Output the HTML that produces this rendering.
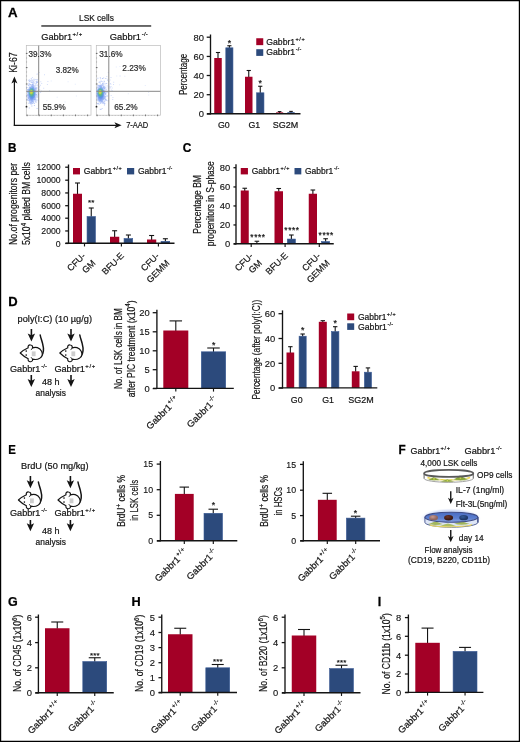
<!DOCTYPE html>
<html><head><meta charset="utf-8"><title>Figure</title>
<style>
html,body{margin:0;padding:0;background:#fff;}
body{width:520px;height:742px;overflow:hidden;position:relative;}
svg{display:block;position:absolute;left:0;top:0;will-change:transform;font-family:"Liberation Sans",sans-serif;}
svg.fig{filter:blur(0.35px);}
text{white-space:pre;}
</style></head><body>
<svg class="fig" width="520" height="742" viewBox="0 0 520 742">
<rect x="-5" y="-5" width="530" height="752" fill="#fff"/>
<defs>
<radialGradient id="gblue"><stop offset="0" stop-color="#3a70e8" stop-opacity="0.95"/><stop offset="0.45" stop-color="#4c80ec" stop-opacity="0.7"/><stop offset="1" stop-color="#7a9cf2" stop-opacity="0"/></radialGradient>
<radialGradient id="ggreen"><stop offset="0" stop-color="#86d048" stop-opacity="0.9"/><stop offset="0.55" stop-color="#5cc478" stop-opacity="0.7"/><stop offset="1" stop-color="#38a8d0" stop-opacity="0"/></radialGradient>
<radialGradient id="gyel"><stop offset="0" stop-color="#ecd838" stop-opacity="0.9"/><stop offset="0.6" stop-color="#d8d840" stop-opacity="0.7"/><stop offset="1" stop-color="#b8e040" stop-opacity="0"/></radialGradient>
<radialGradient id="gglow"><stop offset="0" stop-color="#9fb6ee" stop-opacity="0.9"/><stop offset="0.8" stop-color="#b8c8f2" stop-opacity="0.55"/><stop offset="1" stop-color="#dfe6fa" stop-opacity="0"/></radialGradient>
<linearGradient id="gmed" x1="0" y1="0" x2="0" y2="1"><stop offset="0" stop-color="#4a6cc2"/><stop offset="0.6" stop-color="#5c7fd0"/><stop offset="1" stop-color="#8aa4e0"/></linearGradient>
<radialGradient id="gc1" cx="0.4" cy="0.35"><stop offset="0" stop-color="#c99a90"/><stop offset="1" stop-color="#8e6660"/></radialGradient>
<radialGradient id="gc2" cx="0.4" cy="0.35"><stop offset="0" stop-color="#6e3428"/><stop offset="1" stop-color="#3c1a16"/></radialGradient>
<radialGradient id="gc3" cx="0.4" cy="0.35"><stop offset="0" stop-color="#345a98"/><stop offset="1" stop-color="#1f3868"/></radialGradient>
</defs>
<text transform="translate(7.90 16.75) scale(1.0720 1.0000)" x="0.00" y="0" font-size="12.40" font-weight="bold" fill="#000" stroke="#000" stroke-width="0.25">A</text>
<text transform="translate(79.00 20.70) scale(0.9407 1.0000)" x="0.00" y="0" font-size="8.90" fill="#141414" stroke="#141414" stroke-width="0.20">LSK cells</text>
<rect x="41.30" y="25.40" width="109.90" height="1.15" fill="#000"/>
<text transform="translate(41.30 40.40) scale(1.0272 1.0000)" x="0.00" y="0" font-size="9.00" fill="#141414" stroke="#141414" stroke-width="0.20">Gabbr1<tspan font-size="5.76" dy="-4.23" letter-spacing="0.60" dx="0.35">+/+</tspan></text>
<text transform="translate(109.80 40.40) scale(1.0424 1.0000)" x="0.00" y="0" font-size="9.00" fill="#141414" stroke="#141414" stroke-width="0.20">Gabbr1<tspan font-size="5.76" dy="-4.23" letter-spacing="0.10" dx="0.70">-/-</tspan></text>
<rect x="26.30" y="45.60" width="64.70" height="69.60" fill="#ffffff" stroke="#bcbcbc" stroke-width="0.70"/>
<path d="M31.8 101.0h1v1h-1zM29.0 99.5h1v1h-1zM30.8 91.9h1v1h-1zM36.6 94.4h1v1h-1zM31.4 97.9h1v1h-1zM34.5 93.3h1v1h-1zM33.1 87.7h1v1h-1zM30.5 90.9h1v1h-1zM27.9 84.4h1v1h-1zM27.1 92.1h1v1h-1zM31.0 91.6h1v1h-1zM31.7 85.5h1v1h-1zM31.3 94.9h1v1h-1zM33.5 88.4h1v1h-1zM30.4 81.4h1v1h-1zM30.1 80.3h1v1h-1zM27.7 100.1h1v1h-1zM32.4 91.6h1v1h-1zM32.7 96.7h1v1h-1zM34.3 92.1h1v1h-1zM29.9 89.9h1v1h-1zM28.8 93.2h1v1h-1zM29.4 99.9h1v1h-1zM26.5 86.9h1v1h-1zM28.9 80.9h1v1h-1zM36.6 79.0h1v1h-1zM30.7 90.3h1v1h-1zM36.0 81.6h1v1h-1zM34.4 89.1h1v1h-1zM31.1 89.5h1v1h-1zM33.2 86.7h1v1h-1zM31.3 95.6h1v1h-1zM36.5 79.1h1v1h-1zM35.6 99.2h1v1h-1zM30.2 95.3h1v1h-1zM30.2 103.4h1v1h-1zM32.1 92.2h1v1h-1zM30.9 92.3h1v1h-1zM31.0 88.2h1v1h-1zM37.1 82.0h1v1h-1zM31.1 95.7h1v1h-1zM30.9 92.6h1v1h-1zM32.4 99.3h1v1h-1zM30.3 91.3h1v1h-1zM36.7 96.7h1v1h-1zM28.8 107.4h1v1h-1zM33.6 90.0h1v1h-1zM28.3 95.3h1v1h-1zM29.3 87.2h1v1h-1zM28.0 90.5h1v1h-1zM34.5 90.9h1v1h-1zM27.6 97.5h1v1h-1zM31.7 98.6h1v1h-1zM34.7 92.5h1v1h-1zM31.1 93.2h1v1h-1zM28.4 97.5h1v1h-1zM35.2 94.5h1v1h-1zM30.9 91.9h1v1h-1zM29.4 88.7h1v1h-1zM30.4 88.4h1v1h-1zM30.3 84.0h1v1h-1zM32.4 93.8h1v1h-1zM28.4 79.7h1v1h-1zM31.5 100.1h1v1h-1zM29.5 90.6h1v1h-1zM30.0 97.4h1v1h-1zM29.0 99.4h1v1h-1zM30.7 99.0h1v1h-1zM31.6 92.1h1v1h-1zM27.5 89.4h1v1h-1zM30.8 97.5h1v1h-1zM32.2 89.3h1v1h-1zM32.6 99.4h1v1h-1zM31.1 90.9h1v1h-1zM30.4 98.4h1v1h-1zM33.0 87.9h1v1h-1zM32.5 90.6h1v1h-1zM29.5 100.9h1v1h-1zM33.7 89.2h1v1h-1zM31.7 96.5h1v1h-1zM29.8 92.8h1v1h-1zM33.3 82.8h1v1h-1zM32.4 97.9h1v1h-1zM32.9 85.5h1v1h-1zM32.4 88.3h1v1h-1zM33.0 97.1h1v1h-1zM32.1 88.9h1v1h-1zM29.9 98.6h1v1h-1zM29.1 96.5h1v1h-1zM32.9 91.8h1v1h-1zM38.0 93.9h1v1h-1zM37.3 81.4h1v1h-1zM33.2 91.6h1v1h-1zM31.4 82.1h1v1h-1zM29.8 87.3h1v1h-1zM30.9 98.8h1v1h-1zM31.6 95.7h1v1h-1zM29.6 90.9h1v1h-1zM31.8 91.8h1v1h-1zM34.9 88.2h1v1h-1zM36.6 87.6h1v1h-1zM34.4 88.9h1v1h-1zM36.0 94.3h1v1h-1zM32.6 98.0h1v1h-1zM29.8 87.2h1v1h-1zM29.6 89.9h1v1h-1zM31.4 105.4h1v1h-1zM26.8 95.0h1v1h-1zM30.4 96.7h1v1h-1zM26.6 91.1h1v1h-1zM33.8 102.9h1v1h-1zM35.8 88.4h1v1h-1zM31.6 92.8h1v1h-1zM27.8 84.9h1v1h-1zM33.5 95.0h1v1h-1zM31.1 100.8h1v1h-1zM28.8 96.7h1v1h-1zM31.5 93.1h1v1h-1zM32.8 94.6h1v1h-1zM32.2 95.1h1v1h-1zM36.7 91.6h1v1h-1zM34.2 97.2h1v1h-1zM30.6 98.3h1v1h-1zM29.2 100.5h1v1h-1zM29.3 90.6h1v1h-1zM32.4 98.5h1v1h-1zM34.0 98.9h1v1h-1zM30.9 87.8h1v1h-1zM33.0 95.3h1v1h-1zM28.9 99.3h1v1h-1zM32.0 87.8h1v1h-1zM32.7 85.5h1v1h-1zM29.1 95.9h1v1h-1zM27.3 93.7h1v1h-1zM27.9 97.9h1v1h-1zM29.5 94.6h1v1h-1zM27.4 91.4h1v1h-1zM34.1 96.2h1v1h-1zM26.5 99.0h1v1h-1zM33.9 91.2h1v1h-1zM35.3 87.1h1v1h-1zM31.3 100.2h1v1h-1zM35.0 101.2h1v1h-1zM28.5 82.8h1v1h-1zM32.6 84.9h1v1h-1zM31.1 85.8h1v1h-1zM34.4 98.3h1v1h-1zM33.0 93.6h1v1h-1zM31.6 91.7h1v1h-1zM32.5 95.0h1v1h-1zM32.7 90.9h1v1h-1zM36.6 95.2h1v1h-1zM35.3 101.5h1v1h-1zM29.1 83.4h1v1h-1zM34.9 91.2h1v1h-1zM31.7 91.9h1v1h-1zM31.9 86.4h1v1h-1zM31.2 90.7h1v1h-1zM31.5 79.5h1v1h-1zM33.7 95.5h1v1h-1zM26.8 89.1h1v1h-1zM31.6 97.3h1v1h-1zM31.5 101.8h1v1h-1zM31.6 87.5h1v1h-1zM29.7 98.0h1v1h-1zM29.8 98.5h1v1h-1zM34.3 97.0h1v1h-1zM34.2 92.5h1v1h-1zM31.5 89.9h1v1h-1zM29.9 84.1h1v1h-1zM30.0 87.1h1v1h-1zM27.6 94.4h1v1h-1zM32.7 91.4h1v1h-1zM35.2 99.1h1v1h-1zM34.3 89.9h1v1h-1zM27.5 96.8h1v1h-1zM32.3 97.9h1v1h-1zM32.6 101.1h1v1h-1zM30.7 97.5h1v1h-1zM29.1 79.6h1v1h-1zM30.3 102.5h1v1h-1zM27.0 99.6h1v1h-1zM29.7 91.1h1v1h-1zM31.6 94.8h1v1h-1zM28.9 94.3h1v1h-1zM32.7 98.5h1v1h-1zM29.5 102.8h1v1h-1zM36.6 108.0h1v1h-1zM27.9 94.5h1v1h-1zM26.5 95.8h1v1h-1zM33.0 86.6h1v1h-1zM27.2 94.6h1v1h-1zM33.2 88.7h1v1h-1zM30.8 78.3h1v1h-1zM29.6 94.4h1v1h-1zM31.9 103.0h1v1h-1zM28.4 80.0h1v1h-1zM32.7 90.0h1v1h-1zM32.3 97.8h1v1h-1zM33.1 102.2h1v1h-1zM35.2 83.5h1v1h-1zM31.3 105.5h1v1h-1zM30.4 99.3h1v1h-1zM31.3 91.0h1v1h-1zM35.8 99.8h1v1h-1zM30.8 98.9h1v1h-1zM28.0 89.1h1v1h-1zM33.9 93.7h1v1h-1zM28.6 96.2h1v1h-1zM32.4 101.2h1v1h-1zM34.1 91.8h1v1h-1zM30.2 92.7h1v1h-1zM30.9 102.3h1v1h-1zM35.8 101.6h1v1h-1zM32.5 92.0h1v1h-1zM33.9 91.4h1v1h-1zM32.1 83.5h1v1h-1zM30.4 102.1h1v1h-1zM28.7 84.5h1v1h-1zM31.1 103.5h1v1h-1zM35.4 91.3h1v1h-1zM30.2 92.8h1v1h-1zM29.0 93.7h1v1h-1zM30.7 84.6h1v1h-1zM29.9 92.0h1v1h-1zM29.2 86.8h1v1h-1zM33.9 104.9h1v1h-1zM30.7 91.0h1v1h-1zM32.9 92.1h1v1h-1zM29.4 101.9h1v1h-1zM28.7 89.1h1v1h-1zM29.7 88.2h1v1h-1zM30.9 97.0h1v1h-1zM35.4 97.5h1v1h-1zM31.6 86.0h1v1h-1zM31.3 87.9h1v1h-1zM31.2 99.4h1v1h-1zM32.1 92.2h1v1h-1zM29.5 93.4h1v1h-1zM31.8 87.9h1v1h-1zM30.1 98.8h1v1h-1zM27.0 90.8h1v1h-1zM28.3 102.8h1v1h-1zM33.1 96.6h1v1h-1zM32.6 95.2h1v1h-1zM32.3 84.0h1v1h-1zM32.2 97.1h1v1h-1zM27.6 98.4h1v1h-1zM33.3 84.4h1v1h-1zM30.2 91.7h1v1h-1zM30.1 95.8h1v1h-1zM28.1 92.2h1v1h-1zM32.1 97.8h1v1h-1zM31.6 92.0h1v1h-1zM33.4 81.6h1v1h-1zM34.0 91.7h1v1h-1z" fill="#5a80ea" opacity="0.42"/>
<path d="M40.0 84.7h1v1h-1zM44.0 74.2h1v1h-1zM33.5 82.4h1v1h-1zM36.3 81.7h1v1h-1zM40.3 81.3h1v1h-1zM43.2 87.7h1v1h-1zM35.5 81.1h1v1h-1zM38.9 86.4h1v1h-1zM34.2 95.0h1v1h-1zM39.2 89.3h1v1h-1zM35.8 81.9h1v1h-1zM47.4 80.9h1v1h-1zM34.1 85.3h1v1h-1zM33.8 78.7h1v1h-1zM37.5 89.4h1v1h-1zM31.5 90.1h1v1h-1zM46.9 83.9h1v1h-1zM37.5 99.3h1v1h-1zM32.5 84.2h1v1h-1zM37.2 80.6h1v1h-1zM41.2 82.9h1v1h-1zM31.6 81.5h1v1h-1zM36.9 73.4h1v1h-1zM36.0 82.2h1v1h-1zM31.5 80.0h1v1h-1zM32.8 88.7h1v1h-1zM35.3 89.5h1v1h-1zM35.6 94.0h1v1h-1zM33.9 79.8h1v1h-1zM40.1 91.9h1v1h-1zM33.8 94.3h1v1h-1zM31.5 80.9h1v1h-1zM37.5 100.1h1v1h-1zM32.5 81.4h1v1h-1zM37.1 93.3h1v1h-1zM35.3 84.9h1v1h-1zM36.0 87.6h1v1h-1zM32.0 84.0h1v1h-1zM35.7 88.6h1v1h-1zM32.3 91.3h1v1h-1zM34.7 89.7h1v1h-1zM34.5 88.0h1v1h-1zM35.2 94.1h1v1h-1zM32.6 88.0h1v1h-1zM38.0 89.6h1v1h-1zM31.9 85.5h1v1h-1zM37.0 91.2h1v1h-1zM49.1 90.3h1v1h-1zM31.8 90.3h1v1h-1zM35.3 88.1h1v1h-1zM35.8 83.3h1v1h-1zM32.8 89.0h1v1h-1zM32.0 82.3h1v1h-1zM33.0 80.4h1v1h-1zM36.6 85.3h1v1h-1zM31.2 92.6h1v1h-1zM35.1 79.1h1v1h-1zM32.9 89.9h1v1h-1zM38.8 71.9h1v1h-1zM31.7 87.2h1v1h-1zM34.2 88.0h1v1h-1zM32.1 89.1h1v1h-1zM40.8 90.6h1v1h-1zM35.0 84.9h1v1h-1zM39.1 86.3h1v1h-1zM36.4 73.8h1v1h-1zM32.9 86.9h1v1h-1zM34.4 95.9h1v1h-1zM34.0 86.6h1v1h-1zM34.9 99.7h1v1h-1zM36.4 91.8h1v1h-1zM36.5 96.0h1v1h-1zM35.1 85.8h1v1h-1zM31.9 76.9h1v1h-1zM35.8 80.4h1v1h-1zM37.1 84.6h1v1h-1zM35.5 89.9h1v1h-1zM32.7 80.2h1v1h-1zM31.7 91.4h1v1h-1zM33.0 78.8h1v1h-1z" fill="#5a80ea" opacity="0.26"/>
<path d="M67.6 81.2h1v1h-1zM57.6 71.5h1v1h-1zM67.6 66.1h1v1h-1zM56.7 96.7h1v1h-1zM66.1 69.1h1v1h-1zM46.4 100.2h1v1h-1zM64.5 101.6h1v1h-1zM74.8 83.8h1v1h-1zM75.9 95.6h1v1h-1zM50.7 80.5h1v1h-1z" fill="#5a80ea" opacity="0.16"/>
<ellipse cx="31.90" cy="94.00" rx="5.4" ry="10.5" fill="url(#gblue)"/>
<ellipse cx="31.60" cy="92.60" rx="3.5" ry="5.6" fill="url(#ggreen)"/>
<ellipse cx="31.30" cy="92.10" rx="2.0" ry="2.8" fill="url(#gyel)"/>
<line x1="38.70" y1="45.60" x2="38.70" y2="115.20" stroke="#868686" stroke-width="1.00" stroke-linecap="butt"/>
<line x1="26.30" y1="91.30" x2="91.00" y2="91.30" stroke="#868686" stroke-width="1.00" stroke-linecap="butt"/>
<line x1="25.90" y1="53.40" x2="27.50" y2="53.40" stroke="#555" stroke-width="0.90" stroke-linecap="butt"/>
<line x1="25.90" y1="67.60" x2="27.50" y2="67.60" stroke="#555" stroke-width="0.90" stroke-linecap="butt"/>
<line x1="25.90" y1="84.00" x2="27.50" y2="84.00" stroke="#555" stroke-width="0.90" stroke-linecap="butt"/>
<line x1="26.10" y1="58.00" x2="27.10" y2="58.00" stroke="#888" stroke-width="0.60" stroke-linecap="butt"/>
<line x1="26.10" y1="62.00" x2="27.10" y2="62.00" stroke="#888" stroke-width="0.60" stroke-linecap="butt"/>
<line x1="26.10" y1="72.00" x2="27.10" y2="72.00" stroke="#888" stroke-width="0.60" stroke-linecap="butt"/>
<line x1="26.10" y1="76.00" x2="27.10" y2="76.00" stroke="#888" stroke-width="0.60" stroke-linecap="butt"/>
<line x1="26.10" y1="80.00" x2="27.10" y2="80.00" stroke="#888" stroke-width="0.60" stroke-linecap="butt"/>
<line x1="26.10" y1="88.00" x2="27.10" y2="88.00" stroke="#888" stroke-width="0.60" stroke-linecap="butt"/>
<line x1="26.10" y1="96.00" x2="27.10" y2="96.00" stroke="#888" stroke-width="0.60" stroke-linecap="butt"/>
<line x1="26.10" y1="100.00" x2="27.10" y2="100.00" stroke="#888" stroke-width="0.60" stroke-linecap="butt"/>
<line x1="26.10" y1="103.00" x2="27.10" y2="103.00" stroke="#888" stroke-width="0.60" stroke-linecap="butt"/>
<circle cx="26.50" cy="106.7" r="0.9" fill="#222"/>
<line x1="27.10" y1="114.60" x2="27.10" y2="116.20" stroke="#555" stroke-width="0.90" stroke-linecap="butt"/>
<line x1="39.20" y1="114.60" x2="39.20" y2="116.20" stroke="#555" stroke-width="0.90" stroke-linecap="butt"/>
<line x1="51.30" y1="114.60" x2="51.30" y2="116.20" stroke="#555" stroke-width="0.90" stroke-linecap="butt"/>
<line x1="63.40" y1="114.60" x2="63.40" y2="116.20" stroke="#555" stroke-width="0.90" stroke-linecap="butt"/>
<line x1="75.50" y1="114.60" x2="75.50" y2="116.20" stroke="#555" stroke-width="0.90" stroke-linecap="butt"/>
<line x1="87.60" y1="114.60" x2="87.60" y2="116.20" stroke="#555" stroke-width="0.90" stroke-linecap="butt"/>
<line x1="27.10" y1="115.00" x2="27.10" y2="115.90" stroke="#999" stroke-width="0.50" stroke-linecap="butt"/>
<line x1="30.12" y1="115.00" x2="30.12" y2="115.90" stroke="#999" stroke-width="0.50" stroke-linecap="butt"/>
<line x1="33.14" y1="115.00" x2="33.14" y2="115.90" stroke="#999" stroke-width="0.50" stroke-linecap="butt"/>
<line x1="36.16" y1="115.00" x2="36.16" y2="115.90" stroke="#999" stroke-width="0.50" stroke-linecap="butt"/>
<line x1="39.18" y1="115.00" x2="39.18" y2="115.90" stroke="#999" stroke-width="0.50" stroke-linecap="butt"/>
<line x1="42.20" y1="115.00" x2="42.20" y2="115.90" stroke="#999" stroke-width="0.50" stroke-linecap="butt"/>
<line x1="45.22" y1="115.00" x2="45.22" y2="115.90" stroke="#999" stroke-width="0.50" stroke-linecap="butt"/>
<line x1="48.24" y1="115.00" x2="48.24" y2="115.90" stroke="#999" stroke-width="0.50" stroke-linecap="butt"/>
<line x1="51.26" y1="115.00" x2="51.26" y2="115.90" stroke="#999" stroke-width="0.50" stroke-linecap="butt"/>
<line x1="54.28" y1="115.00" x2="54.28" y2="115.90" stroke="#999" stroke-width="0.50" stroke-linecap="butt"/>
<line x1="57.30" y1="115.00" x2="57.30" y2="115.90" stroke="#999" stroke-width="0.50" stroke-linecap="butt"/>
<line x1="60.32" y1="115.00" x2="60.32" y2="115.90" stroke="#999" stroke-width="0.50" stroke-linecap="butt"/>
<line x1="63.34" y1="115.00" x2="63.34" y2="115.90" stroke="#999" stroke-width="0.50" stroke-linecap="butt"/>
<line x1="66.36" y1="115.00" x2="66.36" y2="115.90" stroke="#999" stroke-width="0.50" stroke-linecap="butt"/>
<line x1="69.38" y1="115.00" x2="69.38" y2="115.90" stroke="#999" stroke-width="0.50" stroke-linecap="butt"/>
<line x1="72.40" y1="115.00" x2="72.40" y2="115.90" stroke="#999" stroke-width="0.50" stroke-linecap="butt"/>
<line x1="75.42" y1="115.00" x2="75.42" y2="115.90" stroke="#999" stroke-width="0.50" stroke-linecap="butt"/>
<line x1="78.44" y1="115.00" x2="78.44" y2="115.90" stroke="#999" stroke-width="0.50" stroke-linecap="butt"/>
<line x1="81.46" y1="115.00" x2="81.46" y2="115.90" stroke="#999" stroke-width="0.50" stroke-linecap="butt"/>
<line x1="84.48" y1="115.00" x2="84.48" y2="115.90" stroke="#999" stroke-width="0.50" stroke-linecap="butt"/>
<line x1="87.50" y1="115.00" x2="87.50" y2="115.90" stroke="#999" stroke-width="0.50" stroke-linecap="butt"/>
<text transform="translate(28.50 56.70) scale(0.9432 1.0000)" x="0.00" y="0" font-size="8.60" fill="#2a2a2a" stroke="#2a2a2a" stroke-width="0.20">39.3%</text>
<text transform="translate(55.80 72.70) scale(0.9432 1.0000)" x="0.00" y="0" font-size="8.60" fill="#2a2a2a" stroke="#2a2a2a" stroke-width="0.20">3.82%</text>
<text transform="translate(42.70 109.60) scale(0.9473 1.0000)" x="0.00" y="0" font-size="8.60" fill="#2a2a2a" stroke="#2a2a2a" stroke-width="0.20">55.9%</text>
<rect x="96.30" y="45.60" width="64.10" height="69.60" fill="#ffffff" stroke="#bcbcbc" stroke-width="0.70"/>
<path d="M99.6 96.6h1v1h-1zM99.7 91.6h1v1h-1zM97.8 92.2h1v1h-1zM103.3 96.0h1v1h-1zM103.1 95.0h1v1h-1zM101.4 94.6h1v1h-1zM101.7 96.5h1v1h-1zM97.9 90.7h1v1h-1zM101.1 93.2h1v1h-1zM101.7 89.6h1v1h-1zM101.1 95.9h1v1h-1zM98.5 103.8h1v1h-1zM101.8 100.7h1v1h-1zM98.6 89.1h1v1h-1zM99.4 92.9h1v1h-1zM102.0 95.0h1v1h-1zM99.1 87.8h1v1h-1zM98.9 100.8h1v1h-1zM98.1 95.0h1v1h-1zM101.5 84.6h1v1h-1zM100.4 101.3h1v1h-1zM100.0 88.6h1v1h-1zM101.6 93.1h1v1h-1zM102.1 99.2h1v1h-1zM104.2 95.7h1v1h-1zM100.6 85.7h1v1h-1zM102.0 89.8h1v1h-1zM99.1 85.9h1v1h-1zM97.7 90.3h1v1h-1zM103.8 81.3h1v1h-1zM104.2 97.0h1v1h-1zM101.3 89.1h1v1h-1zM97.3 99.4h1v1h-1zM103.3 94.4h1v1h-1zM101.0 96.1h1v1h-1zM104.6 97.2h1v1h-1zM101.7 96.8h1v1h-1zM102.9 96.7h1v1h-1zM102.6 82.6h1v1h-1zM99.8 99.6h1v1h-1zM96.8 103.2h1v1h-1zM101.8 92.6h1v1h-1zM101.2 97.4h1v1h-1zM100.6 100.4h1v1h-1zM98.5 91.0h1v1h-1zM103.1 93.7h1v1h-1zM97.9 99.2h1v1h-1zM104.3 90.8h1v1h-1zM96.6 92.7h1v1h-1zM99.9 91.7h1v1h-1zM104.1 87.3h1v1h-1zM103.7 85.9h1v1h-1zM98.2 97.3h1v1h-1zM103.3 98.7h1v1h-1zM101.2 94.4h1v1h-1zM100.7 97.0h1v1h-1zM99.8 95.2h1v1h-1zM101.8 93.5h1v1h-1zM102.4 96.9h1v1h-1zM105.7 95.4h1v1h-1zM99.1 91.3h1v1h-1zM100.3 99.0h1v1h-1zM99.4 95.8h1v1h-1zM105.3 78.1h1v1h-1zM97.3 95.0h1v1h-1zM101.4 94.9h1v1h-1zM99.1 97.4h1v1h-1zM101.1 90.4h1v1h-1zM106.9 95.6h1v1h-1zM98.8 92.9h1v1h-1zM99.7 93.1h1v1h-1zM103.0 86.5h1v1h-1zM100.1 99.2h1v1h-1zM102.6 102.4h1v1h-1zM99.4 97.2h1v1h-1zM103.2 77.4h1v1h-1zM103.2 84.8h1v1h-1zM102.1 84.5h1v1h-1zM100.8 100.7h1v1h-1zM99.9 94.6h1v1h-1zM102.5 94.3h1v1h-1zM100.1 102.7h1v1h-1zM103.1 91.7h1v1h-1zM107.7 86.6h1v1h-1zM102.8 91.9h1v1h-1zM100.7 97.7h1v1h-1zM100.9 97.3h1v1h-1zM102.0 87.7h1v1h-1zM97.5 84.7h1v1h-1zM103.7 98.0h1v1h-1zM104.3 87.9h1v1h-1zM100.3 86.7h1v1h-1zM102.4 103.0h1v1h-1zM97.9 102.9h1v1h-1zM103.0 92.4h1v1h-1zM100.0 89.9h1v1h-1zM101.4 96.0h1v1h-1zM104.3 87.4h1v1h-1zM103.4 102.4h1v1h-1zM104.2 92.4h1v1h-1zM98.3 99.6h1v1h-1zM100.6 94.2h1v1h-1zM104.1 91.9h1v1h-1zM101.2 89.8h1v1h-1zM100.3 98.5h1v1h-1zM100.5 101.5h1v1h-1zM100.1 99.7h1v1h-1zM104.3 103.2h1v1h-1zM98.5 98.8h1v1h-1zM97.0 93.4h1v1h-1zM99.8 93.3h1v1h-1zM98.7 94.9h1v1h-1zM105.1 93.8h1v1h-1zM101.7 99.5h1v1h-1zM99.8 85.9h1v1h-1zM98.8 99.9h1v1h-1zM103.0 98.3h1v1h-1zM100.3 98.3h1v1h-1zM100.7 86.4h1v1h-1zM102.8 90.1h1v1h-1zM97.9 88.9h1v1h-1zM97.1 95.7h1v1h-1zM98.6 81.8h1v1h-1zM102.3 91.8h1v1h-1zM101.1 90.7h1v1h-1zM102.4 98.0h1v1h-1zM102.1 95.5h1v1h-1zM103.9 97.5h1v1h-1zM101.5 81.0h1v1h-1zM102.7 101.4h1v1h-1zM99.5 90.7h1v1h-1zM105.5 83.0h1v1h-1zM101.6 108.0h1v1h-1zM97.8 97.6h1v1h-1zM105.4 92.8h1v1h-1zM101.8 98.9h1v1h-1zM97.9 93.0h1v1h-1zM101.1 98.5h1v1h-1zM100.2 92.3h1v1h-1zM97.6 91.3h1v1h-1zM102.7 94.1h1v1h-1zM98.0 88.5h1v1h-1zM107.5 100.3h1v1h-1zM102.0 77.9h1v1h-1zM102.0 96.4h1v1h-1zM104.8 96.1h1v1h-1zM100.1 96.6h1v1h-1zM101.2 89.3h1v1h-1zM103.9 104.4h1v1h-1zM96.5 89.5h1v1h-1zM101.1 94.6h1v1h-1zM99.2 87.7h1v1h-1zM106.0 99.7h1v1h-1zM97.1 85.4h1v1h-1zM104.9 99.4h1v1h-1zM105.2 98.4h1v1h-1zM97.9 95.1h1v1h-1zM100.1 96.6h1v1h-1zM98.3 92.8h1v1h-1zM101.5 95.8h1v1h-1zM102.0 94.8h1v1h-1zM99.4 98.2h1v1h-1zM100.4 88.5h1v1h-1zM98.6 93.5h1v1h-1zM100.0 94.4h1v1h-1zM100.3 94.6h1v1h-1zM99.9 85.9h1v1h-1zM101.4 99.8h1v1h-1zM101.5 92.4h1v1h-1zM101.5 87.7h1v1h-1zM97.8 97.9h1v1h-1zM97.4 77.7h1v1h-1zM97.5 103.0h1v1h-1zM99.3 85.3h1v1h-1zM98.2 96.6h1v1h-1zM101.6 94.6h1v1h-1zM104.3 97.7h1v1h-1zM100.2 97.1h1v1h-1zM104.8 99.3h1v1h-1zM103.1 87.0h1v1h-1zM99.9 97.9h1v1h-1zM99.5 99.9h1v1h-1zM101.9 98.9h1v1h-1zM99.7 108.8h1v1h-1zM103.6 92.2h1v1h-1zM100.5 109.1h1v1h-1zM99.4 98.7h1v1h-1zM102.9 93.5h1v1h-1zM97.1 94.6h1v1h-1zM101.3 100.3h1v1h-1zM102.4 93.6h1v1h-1zM102.6 96.7h1v1h-1zM100.9 93.8h1v1h-1zM99.6 97.6h1v1h-1zM97.5 89.7h1v1h-1zM100.3 84.7h1v1h-1zM99.1 81.4h1v1h-1zM98.5 96.9h1v1h-1zM101.8 93.2h1v1h-1zM99.7 85.0h1v1h-1zM105.2 96.6h1v1h-1zM103.3 88.2h1v1h-1zM99.8 82.6h1v1h-1zM102.4 99.1h1v1h-1zM102.0 82.9h1v1h-1zM98.6 85.1h1v1h-1zM100.4 95.0h1v1h-1zM102.0 97.7h1v1h-1zM104.4 100.5h1v1h-1zM96.8 90.5h1v1h-1zM97.4 87.0h1v1h-1zM100.1 93.5h1v1h-1zM101.6 84.0h1v1h-1zM97.0 93.4h1v1h-1zM99.8 91.6h1v1h-1zM100.1 88.9h1v1h-1zM102.2 95.6h1v1h-1zM100.1 89.5h1v1h-1zM99.8 77.2h1v1h-1zM97.7 93.7h1v1h-1zM100.7 85.2h1v1h-1zM99.6 91.6h1v1h-1zM101.5 97.2h1v1h-1zM100.2 88.4h1v1h-1zM99.9 93.1h1v1h-1zM102.3 95.3h1v1h-1zM98.3 85.4h1v1h-1zM99.3 89.1h1v1h-1zM97.3 92.8h1v1h-1zM99.0 94.1h1v1h-1zM101.7 91.0h1v1h-1zM106.6 91.6h1v1h-1zM103.3 94.2h1v1h-1z" fill="#5a80ea" opacity="0.42"/>
<path d="M107.8 72.1h1v1h-1zM105.3 89.1h1v1h-1zM104.2 102.7h1v1h-1zM102.3 95.8h1v1h-1zM105.4 93.7h1v1h-1zM103.6 86.5h1v1h-1zM103.6 80.5h1v1h-1zM108.3 80.9h1v1h-1zM101.7 101.3h1v1h-1zM101.6 87.6h1v1h-1zM108.1 87.7h1v1h-1zM105.7 89.2h1v1h-1zM104.1 92.1h1v1h-1zM105.4 98.9h1v1h-1zM111.7 87.6h1v1h-1zM101.9 84.7h1v1h-1zM109.9 82.9h1v1h-1zM104.7 84.4h1v1h-1zM104.9 92.2h1v1h-1zM109.3 87.4h1v1h-1zM104.7 92.8h1v1h-1zM100.3 89.5h1v1h-1zM110.7 94.9h1v1h-1zM103.6 102.3h1v1h-1zM100.0 92.6h1v1h-1zM104.5 87.2h1v1h-1zM112.2 99.1h1v1h-1zM109.6 79.6h1v1h-1zM110.5 77.0h1v1h-1zM108.2 84.5h1v1h-1zM100.4 85.5h1v1h-1zM100.8 80.4h1v1h-1zM100.2 78.2h1v1h-1zM100.5 89.5h1v1h-1zM103.3 86.0h1v1h-1zM106.3 88.5h1v1h-1zM103.4 97.7h1v1h-1zM105.4 86.8h1v1h-1zM103.3 82.9h1v1h-1zM106.6 85.2h1v1h-1zM102.1 90.9h1v1h-1zM104.0 101.1h1v1h-1zM104.9 87.6h1v1h-1zM119.6 75.4h1v1h-1zM103.7 88.6h1v1h-1zM101.1 90.2h1v1h-1zM101.7 89.9h1v1h-1zM100.4 92.5h1v1h-1zM113.2 81.7h1v1h-1zM100.0 80.8h1v1h-1zM107.3 91.6h1v1h-1zM104.5 91.6h1v1h-1zM105.2 89.5h1v1h-1zM103.6 86.8h1v1h-1zM109.9 87.3h1v1h-1zM103.2 84.1h1v1h-1zM100.7 92.4h1v1h-1zM106.1 91.7h1v1h-1zM113.0 83.9h1v1h-1zM101.0 86.5h1v1h-1zM110.8 89.6h1v1h-1zM106.3 83.0h1v1h-1zM100.1 87.4h1v1h-1zM112.4 96.9h1v1h-1zM106.3 76.1h1v1h-1zM105.2 86.6h1v1h-1zM103.1 89.9h1v1h-1zM110.5 86.1h1v1h-1zM110.4 83.8h1v1h-1zM107.2 78.7h1v1h-1zM108.5 89.7h1v1h-1zM111.8 90.3h1v1h-1zM101.7 102.0h1v1h-1zM103.6 83.1h1v1h-1zM103.7 91.1h1v1h-1zM107.1 79.9h1v1h-1zM102.0 89.1h1v1h-1zM109.1 86.2h1v1h-1zM103.8 90.5h1v1h-1zM100.8 86.9h1v1h-1z" fill="#5a80ea" opacity="0.26"/>
<path d="M119.1 84.3h1v1h-1zM148.1 91.9h1v1h-1zM144.8 84.9h1v1h-1zM116.2 75.4h1v1h-1zM148.2 94.4h1v1h-1zM119.4 66.0h1v1h-1zM127.8 93.2h1v1h-1zM124.3 75.8h1v1h-1zM135.2 103.6h1v1h-1zM115.8 66.5h1v1h-1z" fill="#5a80ea" opacity="0.16"/>
<ellipse cx="100.70" cy="94.00" rx="5.4" ry="10.5" fill="url(#gblue)"/>
<ellipse cx="100.40" cy="92.60" rx="3.5" ry="5.6" fill="url(#ggreen)"/>
<ellipse cx="100.10" cy="92.10" rx="2.0" ry="2.8" fill="url(#gyel)"/>
<line x1="108.80" y1="45.60" x2="108.80" y2="115.20" stroke="#868686" stroke-width="1.00" stroke-linecap="butt"/>
<line x1="96.30" y1="91.30" x2="160.40" y2="91.30" stroke="#868686" stroke-width="1.00" stroke-linecap="butt"/>
<line x1="95.90" y1="53.40" x2="97.50" y2="53.40" stroke="#555" stroke-width="0.90" stroke-linecap="butt"/>
<line x1="95.90" y1="67.60" x2="97.50" y2="67.60" stroke="#555" stroke-width="0.90" stroke-linecap="butt"/>
<line x1="95.90" y1="84.00" x2="97.50" y2="84.00" stroke="#555" stroke-width="0.90" stroke-linecap="butt"/>
<line x1="96.10" y1="58.00" x2="97.10" y2="58.00" stroke="#888" stroke-width="0.60" stroke-linecap="butt"/>
<line x1="96.10" y1="62.00" x2="97.10" y2="62.00" stroke="#888" stroke-width="0.60" stroke-linecap="butt"/>
<line x1="96.10" y1="72.00" x2="97.10" y2="72.00" stroke="#888" stroke-width="0.60" stroke-linecap="butt"/>
<line x1="96.10" y1="76.00" x2="97.10" y2="76.00" stroke="#888" stroke-width="0.60" stroke-linecap="butt"/>
<line x1="96.10" y1="80.00" x2="97.10" y2="80.00" stroke="#888" stroke-width="0.60" stroke-linecap="butt"/>
<line x1="96.10" y1="88.00" x2="97.10" y2="88.00" stroke="#888" stroke-width="0.60" stroke-linecap="butt"/>
<line x1="96.10" y1="96.00" x2="97.10" y2="96.00" stroke="#888" stroke-width="0.60" stroke-linecap="butt"/>
<line x1="96.10" y1="100.00" x2="97.10" y2="100.00" stroke="#888" stroke-width="0.60" stroke-linecap="butt"/>
<line x1="96.10" y1="103.00" x2="97.10" y2="103.00" stroke="#888" stroke-width="0.60" stroke-linecap="butt"/>
<circle cx="96.50" cy="106.7" r="0.9" fill="#222"/>
<line x1="97.10" y1="114.60" x2="97.10" y2="116.20" stroke="#555" stroke-width="0.90" stroke-linecap="butt"/>
<line x1="109.20" y1="114.60" x2="109.20" y2="116.20" stroke="#555" stroke-width="0.90" stroke-linecap="butt"/>
<line x1="121.30" y1="114.60" x2="121.30" y2="116.20" stroke="#555" stroke-width="0.90" stroke-linecap="butt"/>
<line x1="133.40" y1="114.60" x2="133.40" y2="116.20" stroke="#555" stroke-width="0.90" stroke-linecap="butt"/>
<line x1="145.50" y1="114.60" x2="145.50" y2="116.20" stroke="#555" stroke-width="0.90" stroke-linecap="butt"/>
<line x1="157.60" y1="114.60" x2="157.60" y2="116.20" stroke="#555" stroke-width="0.90" stroke-linecap="butt"/>
<line x1="97.10" y1="115.00" x2="97.10" y2="115.90" stroke="#999" stroke-width="0.50" stroke-linecap="butt"/>
<line x1="100.12" y1="115.00" x2="100.12" y2="115.90" stroke="#999" stroke-width="0.50" stroke-linecap="butt"/>
<line x1="103.14" y1="115.00" x2="103.14" y2="115.90" stroke="#999" stroke-width="0.50" stroke-linecap="butt"/>
<line x1="106.16" y1="115.00" x2="106.16" y2="115.90" stroke="#999" stroke-width="0.50" stroke-linecap="butt"/>
<line x1="109.18" y1="115.00" x2="109.18" y2="115.90" stroke="#999" stroke-width="0.50" stroke-linecap="butt"/>
<line x1="112.20" y1="115.00" x2="112.20" y2="115.90" stroke="#999" stroke-width="0.50" stroke-linecap="butt"/>
<line x1="115.22" y1="115.00" x2="115.22" y2="115.90" stroke="#999" stroke-width="0.50" stroke-linecap="butt"/>
<line x1="118.24" y1="115.00" x2="118.24" y2="115.90" stroke="#999" stroke-width="0.50" stroke-linecap="butt"/>
<line x1="121.26" y1="115.00" x2="121.26" y2="115.90" stroke="#999" stroke-width="0.50" stroke-linecap="butt"/>
<line x1="124.28" y1="115.00" x2="124.28" y2="115.90" stroke="#999" stroke-width="0.50" stroke-linecap="butt"/>
<line x1="127.30" y1="115.00" x2="127.30" y2="115.90" stroke="#999" stroke-width="0.50" stroke-linecap="butt"/>
<line x1="130.32" y1="115.00" x2="130.32" y2="115.90" stroke="#999" stroke-width="0.50" stroke-linecap="butt"/>
<line x1="133.34" y1="115.00" x2="133.34" y2="115.90" stroke="#999" stroke-width="0.50" stroke-linecap="butt"/>
<line x1="136.36" y1="115.00" x2="136.36" y2="115.90" stroke="#999" stroke-width="0.50" stroke-linecap="butt"/>
<line x1="139.38" y1="115.00" x2="139.38" y2="115.90" stroke="#999" stroke-width="0.50" stroke-linecap="butt"/>
<line x1="142.40" y1="115.00" x2="142.40" y2="115.90" stroke="#999" stroke-width="0.50" stroke-linecap="butt"/>
<line x1="145.42" y1="115.00" x2="145.42" y2="115.90" stroke="#999" stroke-width="0.50" stroke-linecap="butt"/>
<line x1="148.44" y1="115.00" x2="148.44" y2="115.90" stroke="#999" stroke-width="0.50" stroke-linecap="butt"/>
<line x1="151.46" y1="115.00" x2="151.46" y2="115.90" stroke="#999" stroke-width="0.50" stroke-linecap="butt"/>
<line x1="154.48" y1="115.00" x2="154.48" y2="115.90" stroke="#999" stroke-width="0.50" stroke-linecap="butt"/>
<line x1="157.50" y1="115.00" x2="157.50" y2="115.90" stroke="#999" stroke-width="0.50" stroke-linecap="butt"/>
<text transform="translate(99.20 56.70) scale(0.9637 1.0000)" x="0.00" y="0" font-size="8.60" fill="#2a2a2a" stroke="#2a2a2a" stroke-width="0.20">31.6%</text>
<text transform="translate(122.30 70.80) scale(0.9637 1.0000)" x="0.00" y="0" font-size="8.60" fill="#2a2a2a" stroke="#2a2a2a" stroke-width="0.20">2.23%</text>
<text transform="translate(114.20 109.60) scale(0.9637 1.0000)" x="0.00" y="0" font-size="8.60" fill="#2a2a2a" stroke="#2a2a2a" stroke-width="0.20">65.2%</text>
<text transform="translate(17.20 72.70) rotate(-90) scale(0.8402 1.0000)" x="0.00" y="0" font-size="10.40" fill="#141414" stroke="#141414" stroke-width="0.20">Ki-67</text>
<line x1="14.40" y1="80.00" x2="14.40" y2="125.90" stroke="#141414" stroke-width="1.25" stroke-linecap="butt"/>
<path d="M14.4 76.4 L11.4 83.6 L14.4 81.8 L17.4 83.6 Z" fill="#141414"/>
<line x1="13.80" y1="125.30" x2="116.00" y2="125.30" stroke="#141414" stroke-width="1.25" stroke-linecap="butt"/>
<path d="M121.6 125.3 L114.4 122.3 L116.2 125.3 L114.4 128.3 Z" fill="#141414"/>
<text transform="translate(126.20 127.90) scale(0.7816 1.0000)" x="0.00" y="0" font-size="9.60" fill="#141414" stroke="#141414" stroke-width="0.20">7-AAD</text>
<line x1="218.00" y1="58.50" x2="218.00" y2="52.50" stroke="#141414" stroke-width="1.10" stroke-linecap="butt"/>
<line x1="215.90" y1="52.50" x2="220.10" y2="52.50" stroke="#141414" stroke-width="1.10" stroke-linecap="butt"/>
<rect x="214.25" y="58.00" width="7.50" height="55.75" fill="#a30026"/>
<line x1="229.38" y1="48.00" x2="229.38" y2="45.75" stroke="#141414" stroke-width="1.10" stroke-linecap="butt"/>
<line x1="227.28" y1="45.75" x2="231.47" y2="45.75" stroke="#141414" stroke-width="1.10" stroke-linecap="butt"/>
<rect x="225.80" y="47.80" width="7.15" height="65.95" fill="#2c4a7c" stroke="#3a5a94" stroke-width="0.60"/>
<line x1="248.75" y1="77.25" x2="248.75" y2="70.50" stroke="#141414" stroke-width="1.10" stroke-linecap="butt"/>
<line x1="246.65" y1="70.50" x2="250.85" y2="70.50" stroke="#141414" stroke-width="1.10" stroke-linecap="butt"/>
<rect x="245.00" y="76.75" width="7.50" height="37.00" fill="#a30026"/>
<line x1="260.25" y1="93.00" x2="260.25" y2="86.25" stroke="#141414" stroke-width="1.10" stroke-linecap="butt"/>
<line x1="258.15" y1="86.25" x2="262.35" y2="86.25" stroke="#141414" stroke-width="1.10" stroke-linecap="butt"/>
<rect x="256.55" y="92.80" width="7.40" height="20.95" fill="#2c4a7c" stroke="#3a5a94" stroke-width="0.60"/>
<line x1="279.60" y1="112.90" x2="279.60" y2="111.60" stroke="#141414" stroke-width="1.10" stroke-linecap="butt"/>
<line x1="277.80" y1="111.60" x2="281.40" y2="111.60" stroke="#141414" stroke-width="1.10" stroke-linecap="butt"/>
<rect x="276.00" y="112.40" width="7.20" height="1.35" fill="#a30026"/>
<line x1="291.00" y1="112.70" x2="291.00" y2="111.40" stroke="#141414" stroke-width="1.10" stroke-linecap="butt"/>
<line x1="289.20" y1="111.40" x2="292.80" y2="111.40" stroke="#141414" stroke-width="1.10" stroke-linecap="butt"/>
<rect x="287.80" y="112.50" width="6.40" height="1.25" fill="#2c4a7c" stroke="#3a5a94" stroke-width="0.60"/>
<text transform="translate(229.40 45.51)" x="-1.71" y="0" font-size="8.80" fill="#141414" stroke="#141414" stroke-width="0.20">*</text>
<text transform="translate(260.30 86.01)" x="-1.71" y="0" font-size="8.80" fill="#141414" stroke="#141414" stroke-width="0.20">*</text>
<text transform="translate(223.75 128.00)" x="-5.87" y="0" font-size="8.80" fill="#141414" stroke="#141414" stroke-width="0.20">G0</text>
<text transform="translate(254.25 128.00)" x="-5.87" y="0" font-size="8.80" fill="#141414" stroke="#141414" stroke-width="0.20">G1</text>
<text transform="translate(285.50 128.00) scale(1.0225 1.0000)" x="-12.47" y="0" font-size="8.80" fill="#141414" stroke="#141414" stroke-width="0.20">SG2M</text>
<rect x="256.25" y="38.25" width="7.00" height="6.90" fill="#a30026"/>
<rect x="256.25" y="49.20" width="7.00" height="6.70" fill="#2c4a7c"/>
<text transform="translate(266.25 44.60) scale(1.0105 1.0000)" x="0.00" y="0" font-size="8.60" fill="#141414" stroke="#141414" stroke-width="0.20">Gabbr1<tspan font-size="5.50" dy="-4.04" letter-spacing="0.60" dx="0.35">+/+</tspan></text>
<text transform="translate(266.25 55.10) scale(1.0092 1.0000)" x="0.00" y="0" font-size="8.60" fill="#141414" stroke="#141414" stroke-width="0.20">Gabbr1<tspan font-size="5.50" dy="-4.04" letter-spacing="0.10" dx="0.70">-/-</tspan></text>
<text transform="translate(187.00 95.00) rotate(-90) scale(0.7599 1.0000)" x="0.00" y="0" font-size="10.60" fill="#141414" stroke="#141414" stroke-width="0.20">Percentage</text>
<text transform="translate(8.00 151.70) scale(0.9492 1.0000)" x="0.00" y="0" font-size="12.40" font-weight="bold" fill="#000" stroke="#000" stroke-width="0.25">B</text>
<line x1="77.50" y1="194.25" x2="77.50" y2="183.00" stroke="#141414" stroke-width="1.10" stroke-linecap="butt"/>
<line x1="75.00" y1="183.00" x2="80.00" y2="183.00" stroke="#141414" stroke-width="1.10" stroke-linecap="butt"/>
<rect x="73.00" y="193.75" width="9.00" height="49.50" fill="#a30026"/>
<line x1="91.25" y1="216.75" x2="91.25" y2="208.00" stroke="#141414" stroke-width="1.10" stroke-linecap="butt"/>
<line x1="88.75" y1="208.00" x2="93.75" y2="208.00" stroke="#141414" stroke-width="1.10" stroke-linecap="butt"/>
<rect x="87.05" y="216.55" width="8.40" height="26.70" fill="#2c4a7c" stroke="#3a5a94" stroke-width="0.60"/>
<line x1="114.62" y1="237.25" x2="114.62" y2="230.75" stroke="#141414" stroke-width="1.10" stroke-linecap="butt"/>
<line x1="112.12" y1="230.75" x2="117.12" y2="230.75" stroke="#141414" stroke-width="1.10" stroke-linecap="butt"/>
<rect x="110.00" y="236.75" width="9.25" height="6.50" fill="#a30026"/>
<line x1="128.38" y1="238.75" x2="128.38" y2="235.00" stroke="#141414" stroke-width="1.10" stroke-linecap="butt"/>
<line x1="125.88" y1="235.00" x2="130.88" y2="235.00" stroke="#141414" stroke-width="1.10" stroke-linecap="butt"/>
<rect x="124.05" y="238.55" width="8.65" height="4.70" fill="#2c4a7c" stroke="#3a5a94" stroke-width="0.60"/>
<line x1="151.62" y1="240.00" x2="151.62" y2="235.50" stroke="#141414" stroke-width="1.10" stroke-linecap="butt"/>
<line x1="149.12" y1="235.50" x2="154.12" y2="235.50" stroke="#141414" stroke-width="1.10" stroke-linecap="butt"/>
<rect x="147.00" y="239.50" width="9.25" height="3.75" fill="#a30026"/>
<line x1="165.38" y1="241.50" x2="165.38" y2="238.75" stroke="#141414" stroke-width="1.10" stroke-linecap="butt"/>
<line x1="162.88" y1="238.75" x2="167.88" y2="238.75" stroke="#141414" stroke-width="1.10" stroke-linecap="butt"/>
<rect x="161.05" y="241.30" width="8.65" height="1.95" fill="#2c4a7c" stroke="#3a5a94" stroke-width="0.60"/>
<text transform="translate(91.30 205.30)" x="-3.21" y="0" font-size="8.00" fill="#141414" stroke="#141414" stroke-width="0.20"><tspan font-size="8.00" dy="0.00" letter-spacing="0.10">**</tspan></text>
<line x1="84.50" y1="243.25" x2="84.50" y2="246.45" stroke="#141414" stroke-width="1.15" stroke-linecap="butt"/>
<line x1="121.40" y1="243.25" x2="121.40" y2="246.45" stroke="#141414" stroke-width="1.15" stroke-linecap="butt"/>
<line x1="158.40" y1="243.25" x2="158.40" y2="246.45" stroke="#141414" stroke-width="1.15" stroke-linecap="butt"/>
<rect x="73.00" y="168.00" width="7.00" height="6.40" fill="#a30026"/>
<text transform="translate(83.75 173.80) scale(0.9976 1.0000)" x="0.00" y="0" font-size="8.60" fill="#141414" stroke="#141414" stroke-width="0.20">Gabbr1<tspan font-size="5.50" dy="-4.04" letter-spacing="0.60" dx="0.35">+/+</tspan></text>
<rect x="127.00" y="168.00" width="7.20" height="6.40" fill="#2c4a7c"/>
<text transform="translate(138.00 173.80) scale(0.9920 1.0000)" x="0.00" y="0" font-size="8.60" fill="#141414" stroke="#141414" stroke-width="0.20">Gabbr1<tspan font-size="5.50" dy="-4.04" letter-spacing="0.10" dx="0.70">-/-</tspan></text>
<text transform="translate(17.30 245.00) rotate(-90) scale(0.8414 1.0000)" x="0.00" y="0" font-size="10.40" fill="#141414" stroke="#141414" stroke-width="0.20">No.of progenitors per</text>
<text transform="translate(30.40 245.00) rotate(-90) scale(0.8270 1.0000)" x="0.00" y="0" font-size="10.40" fill="#141414" stroke="#141414" stroke-width="0.20">5x10<tspan font-size="7.49" dy="-4.16">4</tspan><tspan dy="4.16"> plated BM cells</tspan></text>
<text transform="translate(86.00 256.60) rotate(-45)" x="-21.49" y="0" font-size="9.00" fill="#141414" stroke="#141414" stroke-width="0.20">CFU-</text>
<text transform="translate(96.00 263.60) rotate(-45)" x="-14.50" y="0" font-size="9.00" fill="#141414" stroke="#141414" stroke-width="0.20">GM</text>
<text transform="translate(124.60 256.20) rotate(-45)" x="-27.00" y="0" font-size="9.00" fill="#141414" stroke="#141414" stroke-width="0.20">BFU-E</text>
<text transform="translate(159.80 256.60) rotate(-45)" x="-21.49" y="0" font-size="9.00" fill="#141414" stroke="#141414" stroke-width="0.20">CFU-</text>
<text transform="translate(170.00 263.60) rotate(-45)" x="-28.00" y="0" font-size="9.00" fill="#141414" stroke="#141414" stroke-width="0.20">GEMM</text>
<text transform="translate(182.80 151.70) scale(0.9604 1.0000)" x="0.00" y="0" font-size="12.40" font-weight="bold" fill="#000" stroke="#000" stroke-width="0.25">C</text>
<line x1="244.75" y1="191.00" x2="244.75" y2="188.25" stroke="#141414" stroke-width="1.10" stroke-linecap="butt"/>
<line x1="242.45" y1="188.25" x2="247.05" y2="188.25" stroke="#141414" stroke-width="1.10" stroke-linecap="butt"/>
<rect x="240.75" y="190.50" width="8.00" height="53.25" fill="#a30026"/>
<line x1="256.88" y1="243.50" x2="256.88" y2="241.25" stroke="#141414" stroke-width="1.10" stroke-linecap="butt"/>
<line x1="254.57" y1="241.25" x2="259.18" y2="241.25" stroke="#141414" stroke-width="1.10" stroke-linecap="butt"/>
<rect x="252.80" y="243.30" width="8.15" height="0.45" fill="#2c4a7c" stroke="#3a5a94" stroke-width="0.60"/>
<line x1="278.75" y1="191.75" x2="278.75" y2="188.50" stroke="#141414" stroke-width="1.10" stroke-linecap="butt"/>
<line x1="276.45" y1="188.50" x2="281.05" y2="188.50" stroke="#141414" stroke-width="1.10" stroke-linecap="butt"/>
<rect x="274.50" y="191.25" width="8.50" height="52.50" fill="#a30026"/>
<line x1="291.38" y1="239.25" x2="291.38" y2="235.00" stroke="#141414" stroke-width="1.10" stroke-linecap="butt"/>
<line x1="289.07" y1="235.00" x2="293.68" y2="235.00" stroke="#141414" stroke-width="1.10" stroke-linecap="butt"/>
<rect x="287.30" y="239.05" width="8.15" height="4.70" fill="#2c4a7c" stroke="#3a5a94" stroke-width="0.60"/>
<line x1="312.88" y1="194.25" x2="312.88" y2="190.00" stroke="#141414" stroke-width="1.10" stroke-linecap="butt"/>
<line x1="310.57" y1="190.00" x2="315.18" y2="190.00" stroke="#141414" stroke-width="1.10" stroke-linecap="butt"/>
<rect x="308.75" y="193.75" width="8.25" height="50.00" fill="#a30026"/>
<line x1="325.62" y1="241.75" x2="325.62" y2="238.75" stroke="#141414" stroke-width="1.10" stroke-linecap="butt"/>
<line x1="323.32" y1="238.75" x2="327.93" y2="238.75" stroke="#141414" stroke-width="1.10" stroke-linecap="butt"/>
<rect x="321.55" y="241.55" width="8.15" height="2.20" fill="#2c4a7c" stroke="#3a5a94" stroke-width="0.60"/>
<text transform="translate(258.00 239.66)" x="-7.66" y="0" font-size="8.30" fill="#141414" stroke="#141414" stroke-width="0.20"><tspan font-size="8.30" dy="0.00" letter-spacing="0.60">****</tspan></text>
<text transform="translate(292.00 233.46)" x="-7.66" y="0" font-size="8.30" fill="#141414" stroke="#141414" stroke-width="0.20"><tspan font-size="8.30" dy="0.00" letter-spacing="0.60">****</tspan></text>
<text transform="translate(326.25 237.96)" x="-7.66" y="0" font-size="8.30" fill="#141414" stroke="#141414" stroke-width="0.20"><tspan font-size="8.30" dy="0.00" letter-spacing="0.60">****</tspan></text>
<line x1="251.20" y1="243.75" x2="251.20" y2="246.95" stroke="#141414" stroke-width="1.15" stroke-linecap="butt"/>
<line x1="285.10" y1="243.75" x2="285.10" y2="246.95" stroke="#141414" stroke-width="1.15" stroke-linecap="butt"/>
<line x1="319.30" y1="243.75" x2="319.30" y2="246.95" stroke="#141414" stroke-width="1.15" stroke-linecap="butt"/>
<rect x="240.75" y="168.00" width="7.20" height="6.40" fill="#a30026"/>
<text transform="translate(251.75 173.80) scale(0.9873 1.0000)" x="0.00" y="0" font-size="8.60" fill="#141414" stroke="#141414" stroke-width="0.20">Gabbr1<tspan font-size="5.50" dy="-4.04" letter-spacing="0.60" dx="0.35">+/+</tspan></text>
<rect x="294.50" y="168.00" width="6.80" height="6.40" fill="#2c4a7c"/>
<text transform="translate(305.00 173.80) scale(0.9862 1.0000)" x="0.00" y="0" font-size="8.60" fill="#141414" stroke="#141414" stroke-width="0.20">Gabbr1<tspan font-size="5.50" dy="-4.04" letter-spacing="0.10" dx="0.70">-/-</tspan></text>
<text transform="translate(201.20 233.75) rotate(-90) scale(0.8196 1.0000)" x="0.00" y="0" font-size="10.40" fill="#141414" stroke="#141414" stroke-width="0.20">Percentage BM</text>
<text transform="translate(214.30 246.25) rotate(-90) scale(0.8123 1.0000)" x="0.00" y="0" font-size="10.40" fill="#141414" stroke="#141414" stroke-width="0.20">progenitors in S-phase</text>
<text transform="translate(253.60 256.60) rotate(-45)" x="-21.49" y="0" font-size="9.00" fill="#141414" stroke="#141414" stroke-width="0.20">CFU-</text>
<text transform="translate(262.60 263.60) rotate(-45)" x="-14.50" y="0" font-size="9.00" fill="#141414" stroke="#141414" stroke-width="0.20">GM</text>
<text transform="translate(288.40 256.20) rotate(-45)" x="-27.00" y="0" font-size="9.00" fill="#141414" stroke="#141414" stroke-width="0.20">BFU-E</text>
<text transform="translate(321.00 256.60) rotate(-45)" x="-21.49" y="0" font-size="9.00" fill="#141414" stroke="#141414" stroke-width="0.20">CFU-</text>
<text transform="translate(330.20 263.60) rotate(-45)" x="-28.00" y="0" font-size="9.00" fill="#141414" stroke="#141414" stroke-width="0.20">GEMM</text>
<text transform="translate(8.20 306.40) scale(1.0497 1.0000)" x="0.00" y="0" font-size="12.40" font-weight="bold" fill="#000" stroke="#000" stroke-width="0.25">D</text>
<text transform="translate(17.60 322.00) scale(1.0835 1.0000)" x="0.00" y="0" font-size="8.50" fill="#141414" stroke="#141414" stroke-width="0.20">poly(I:C) (10 µg/g)</text>
<line x1="31.40" y1="329.00" x2="31.40" y2="337.54" stroke="#141414" stroke-width="1.60" stroke-linecap="butt"/>
<path d="M31.40 341.50 L27.70 333.50 L31.40 335.30 L35.10 333.50 Z" fill="#141414"/>
<line x1="71.00" y1="329.00" x2="71.00" y2="337.54" stroke="#141414" stroke-width="1.60" stroke-linecap="butt"/>
<path d="M71.00 341.50 L67.30 333.50 L71.00 335.30 L74.70 333.50 Z" fill="#141414"/>
<g transform="translate(20.20 353.00)" fill="#fff" stroke="#141414" stroke-width="1.15" stroke-linejoin="round" stroke-linecap="round">
<path d="M21.0 3.6 C23.6 0.4 23.6 -5.0 22.4 -9.4 C21.6 -12.6 20.4 -15.4 20.0 -18.0" fill="none" stroke-width="1.5"/>
<path d="M0 0 C2.4 -2.2 5.4 -4.0 8.0 -5.2 C7.4 -7.2 8.8 -8.4 10.4 -8.0 C12.2 -7.8 12.9 -6.2 12.2 -4.9 C15.2 -6.6 19.6 -5.4 21.4 -1.8 C22.6 0.8 22.0 3.4 20.0 4.9 C17.2 6.8 14.4 6.8 12.2 6.0 C12.9 7.3 12.0 8.6 10.4 8.7 C8.6 8.9 7.4 7.6 8.0 5.7 C5.4 4.4 2.4 2.4 0 0 Z"/>
<path d="M12.2 -4.9 C11.8 -4.2 11.4 -3.6 11.0 -3.2 M12.2 6.0 C11.8 5.4 11.4 4.9 11.0 4.4" fill="none" stroke-width="0.8"/>
<circle cx="6.0" cy="-1.9" r="0.8" fill="#141414" stroke="none"/>
<circle cx="6.0" cy="2.1" r="0.8" fill="#141414" stroke="none"/>
<rect x="11.6" y="-1.6" width="3.8" height="4.8" fill="#c4c4c4" stroke="none" opacity="0.85"/>
</g>
<g transform="translate(59.80 353.00)" fill="#fff" stroke="#141414" stroke-width="1.15" stroke-linejoin="round" stroke-linecap="round">
<path d="M21.0 3.6 C23.6 0.4 23.6 -5.0 22.4 -9.4 C21.6 -12.6 20.4 -15.4 20.0 -18.0" fill="none" stroke-width="1.5"/>
<path d="M0 0 C2.4 -2.2 5.4 -4.0 8.0 -5.2 C7.4 -7.2 8.8 -8.4 10.4 -8.0 C12.2 -7.8 12.9 -6.2 12.2 -4.9 C15.2 -6.6 19.6 -5.4 21.4 -1.8 C22.6 0.8 22.0 3.4 20.0 4.9 C17.2 6.8 14.4 6.8 12.2 6.0 C12.9 7.3 12.0 8.6 10.4 8.7 C8.6 8.9 7.4 7.6 8.0 5.7 C5.4 4.4 2.4 2.4 0 0 Z"/>
<path d="M12.2 -4.9 C11.8 -4.2 11.4 -3.6 11.0 -3.2 M12.2 6.0 C11.8 5.4 11.4 4.9 11.0 4.4" fill="none" stroke-width="0.8"/>
<circle cx="6.0" cy="-1.9" r="0.8" fill="#141414" stroke="none"/>
<circle cx="6.0" cy="2.1" r="0.8" fill="#141414" stroke="none"/>
<rect x="11.6" y="-1.6" width="3.8" height="4.8" fill="#c4c4c4" stroke="none" opacity="0.85"/>
</g>
<text transform="translate(10.00 371.60) scale(1.0608 1.0000)" x="0.00" y="0" font-size="8.60" fill="#141414" stroke="#141414" stroke-width="0.20">Gabbr1<tspan font-size="5.50" dy="-4.04" letter-spacing="0.10" dx="0.70">-/-</tspan></text>
<text transform="translate(54.40 371.60) scale(1.0672 1.0000)" x="0.00" y="0" font-size="8.60" fill="#141414" stroke="#141414" stroke-width="0.20">Gabbr1<tspan font-size="5.50" dy="-4.04" letter-spacing="0.60" dx="0.35">+/+</tspan></text>
<line x1="31.30" y1="375.00" x2="31.30" y2="383.04" stroke="#141414" stroke-width="1.60" stroke-linecap="butt"/>
<path d="M31.30 387.00 L27.60 379.00 L31.30 380.80 L35.00 379.00 Z" fill="#141414"/>
<line x1="71.00" y1="375.00" x2="71.00" y2="383.04" stroke="#141414" stroke-width="1.60" stroke-linecap="butt"/>
<path d="M71.00 387.00 L67.30 379.00 L71.00 380.80 L74.70 379.00 Z" fill="#141414"/>
<text transform="translate(42.00 385.00) scale(1.0639 1.0000)" x="0.00" y="0" font-size="8.50" fill="#141414" stroke="#141414" stroke-width="0.20">48 h</text>
<text transform="translate(35.60 396.00) scale(0.9899 1.0000)" x="0.00" y="0" font-size="8.50" fill="#141414" stroke="#141414" stroke-width="0.20">analysis</text>
<line x1="175.80" y1="331.00" x2="175.80" y2="320.90" stroke="#141414" stroke-width="1.10" stroke-linecap="butt"/>
<line x1="169.55" y1="320.90" x2="182.05" y2="320.90" stroke="#141414" stroke-width="1.10" stroke-linecap="butt"/>
<rect x="163.30" y="330.50" width="25.00" height="57.90" fill="#a30026"/>
<line x1="213.50" y1="352.00" x2="213.50" y2="348.00" stroke="#141414" stroke-width="1.10" stroke-linecap="butt"/>
<line x1="207.25" y1="348.00" x2="219.75" y2="348.00" stroke="#141414" stroke-width="1.10" stroke-linecap="butt"/>
<rect x="201.30" y="351.80" width="24.40" height="36.60" fill="#2c4a7c" stroke="#3a5a94" stroke-width="0.60"/>
<text transform="translate(213.60 347.81)" x="-1.71" y="0" font-size="8.80" fill="#141414" stroke="#141414" stroke-width="0.20">*</text>
<line x1="175.80" y1="388.40" x2="175.80" y2="391.60" stroke="#141414" stroke-width="1.15" stroke-linecap="butt"/>
<line x1="213.50" y1="388.40" x2="213.50" y2="391.60" stroke="#141414" stroke-width="1.15" stroke-linecap="butt"/>
<text transform="translate(121.50 389.00) rotate(-90) scale(0.7963 1.0000)" x="0.00" y="0" font-size="10.20" fill="#141414" stroke="#141414" stroke-width="0.20">No. of LSK cells in BM</text>
<text transform="translate(134.50 397.30) rotate(-90) scale(0.8330 1.0000)" x="0.00" y="0" font-size="10.20" fill="#141414" stroke="#141414" stroke-width="0.20">after PIC treatment (x10<tspan font-size="7.34" dy="-4.08">4</tspan><tspan dy="4.08">)</tspan></text>
<text transform="translate(180.00 400.00) rotate(-45) scale(1.0278 1.0000)" x="-41.35" y="0" font-size="9.20" fill="#141414" stroke="#141414" stroke-width="0.20">Gabbr1<tspan font-size="5.89" dy="-4.32" letter-spacing="0.60" dx="0.35">+/+</tspan></text>
<text transform="translate(218.10 400.60) rotate(-45) scale(1.0472 1.0000)" x="-37.24" y="0" font-size="9.20" fill="#141414" stroke="#141414" stroke-width="0.20">Gabbr1<tspan font-size="5.89" dy="-4.32" letter-spacing="0.10" dx="0.70">-/-</tspan></text>
<line x1="290.35" y1="353.00" x2="290.35" y2="346.70" stroke="#141414" stroke-width="1.10" stroke-linecap="butt"/>
<line x1="288.15" y1="346.70" x2="292.55" y2="346.70" stroke="#141414" stroke-width="1.10" stroke-linecap="butt"/>
<rect x="286.50" y="352.50" width="7.70" height="35.40" fill="#a30026"/>
<line x1="302.65" y1="336.40" x2="302.65" y2="334.00" stroke="#141414" stroke-width="1.10" stroke-linecap="butt"/>
<line x1="300.45" y1="334.00" x2="304.85" y2="334.00" stroke="#141414" stroke-width="1.10" stroke-linecap="butt"/>
<rect x="299.10" y="336.20" width="7.10" height="51.70" fill="#2c4a7c" stroke="#3a5a94" stroke-width="0.60"/>
<line x1="322.80" y1="322.30" x2="322.80" y2="320.70" stroke="#141414" stroke-width="1.10" stroke-linecap="butt"/>
<line x1="320.60" y1="320.70" x2="325.00" y2="320.70" stroke="#141414" stroke-width="1.10" stroke-linecap="butt"/>
<rect x="318.80" y="321.80" width="8.00" height="66.10" fill="#a30026"/>
<line x1="335.20" y1="331.80" x2="335.20" y2="326.70" stroke="#141414" stroke-width="1.10" stroke-linecap="butt"/>
<line x1="333.00" y1="326.70" x2="337.40" y2="326.70" stroke="#141414" stroke-width="1.10" stroke-linecap="butt"/>
<rect x="331.50" y="331.60" width="7.40" height="56.30" fill="#2c4a7c" stroke="#3a5a94" stroke-width="0.60"/>
<line x1="355.65" y1="371.80" x2="355.65" y2="366.40" stroke="#141414" stroke-width="1.10" stroke-linecap="butt"/>
<line x1="353.45" y1="366.40" x2="357.85" y2="366.40" stroke="#141414" stroke-width="1.10" stroke-linecap="butt"/>
<rect x="351.80" y="371.30" width="7.70" height="16.60" fill="#a30026"/>
<line x1="367.95" y1="372.40" x2="367.95" y2="367.90" stroke="#141414" stroke-width="1.10" stroke-linecap="butt"/>
<line x1="365.75" y1="367.90" x2="370.15" y2="367.90" stroke="#141414" stroke-width="1.10" stroke-linecap="butt"/>
<rect x="364.40" y="372.20" width="7.10" height="15.70" fill="#2c4a7c" stroke="#3a5a94" stroke-width="0.60"/>
<text transform="translate(302.60 333.31)" x="-1.71" y="0" font-size="8.80" fill="#141414" stroke="#141414" stroke-width="0.20">*</text>
<text transform="translate(335.20 326.21)" x="-1.71" y="0" font-size="8.80" fill="#141414" stroke="#141414" stroke-width="0.20">*</text>
<text transform="translate(296.70 402.70)" x="-5.87" y="0" font-size="8.80" fill="#141414" stroke="#141414" stroke-width="0.20">G0</text>
<text transform="translate(328.00 402.70)" x="-5.87" y="0" font-size="8.80" fill="#141414" stroke="#141414" stroke-width="0.20">G1</text>
<text transform="translate(361.00 402.70) scale(1.0225 1.0000)" x="-12.47" y="0" font-size="8.80" fill="#141414" stroke="#141414" stroke-width="0.20">SG2M</text>
<rect x="347.20" y="313.50" width="7.00" height="6.70" fill="#a30026"/>
<rect x="347.20" y="323.30" width="7.00" height="6.60" fill="#2c4a7c"/>
<text transform="translate(358.00 319.70) scale(0.9899 1.0000)" x="0.00" y="0" font-size="8.60" fill="#141414" stroke="#141414" stroke-width="0.20">Gabbr1<tspan font-size="5.50" dy="-4.04" letter-spacing="0.60" dx="0.35">+/+</tspan></text>
<text transform="translate(358.00 329.60) scale(1.0092 1.0000)" x="0.00" y="0" font-size="8.60" fill="#141414" stroke="#141414" stroke-width="0.20">Gabbr1<tspan font-size="5.50" dy="-4.04" letter-spacing="0.10" dx="0.70">-/-</tspan></text>
<text transform="translate(259.90 399.60) rotate(-90) scale(0.7936 1.0000)" x="0.00" y="0" font-size="10.40" fill="#141414" stroke="#141414" stroke-width="0.20">Percentage (after poly(I:C))</text>
<text transform="translate(8.20 454.40) scale(0.9189 1.0000)" x="0.00" y="0" font-size="12.40" font-weight="bold" fill="#000" stroke="#000" stroke-width="0.25">E</text>
<text transform="translate(21.00 468.60) scale(1.0842 1.0000)" x="0.00" y="0" font-size="8.50" fill="#141414" stroke="#141414" stroke-width="0.20">BrdU (50 mg/kg)</text>
<line x1="30.40" y1="476.00" x2="30.40" y2="484.24" stroke="#141414" stroke-width="1.60" stroke-linecap="butt"/>
<path d="M30.40 488.20 L26.70 480.20 L30.40 482.00 L34.10 480.20 Z" fill="#141414"/>
<line x1="70.40" y1="476.00" x2="70.40" y2="484.24" stroke="#141414" stroke-width="1.60" stroke-linecap="butt"/>
<path d="M70.40 488.20 L66.70 480.20 L70.40 482.00 L74.10 480.20 Z" fill="#141414"/>
<g transform="translate(18.40 500.00)" fill="#fff" stroke="#141414" stroke-width="1.15" stroke-linejoin="round" stroke-linecap="round">
<path d="M21.0 3.6 C23.6 0.4 23.6 -5.0 22.4 -9.4 C21.6 -12.6 20.4 -15.4 20.0 -18.0" fill="none" stroke-width="1.5"/>
<path d="M0 0 C2.4 -2.2 5.4 -4.0 8.0 -5.2 C7.4 -7.2 8.8 -8.4 10.4 -8.0 C12.2 -7.8 12.9 -6.2 12.2 -4.9 C15.2 -6.6 19.6 -5.4 21.4 -1.8 C22.6 0.8 22.0 3.4 20.0 4.9 C17.2 6.8 14.4 6.8 12.2 6.0 C12.9 7.3 12.0 8.6 10.4 8.7 C8.6 8.9 7.4 7.6 8.0 5.7 C5.4 4.4 2.4 2.4 0 0 Z"/>
<path d="M12.2 -4.9 C11.8 -4.2 11.4 -3.6 11.0 -3.2 M12.2 6.0 C11.8 5.4 11.4 4.9 11.0 4.4" fill="none" stroke-width="0.8"/>
<circle cx="6.0" cy="-1.9" r="0.8" fill="#141414" stroke="none"/>
<circle cx="6.0" cy="2.1" r="0.8" fill="#141414" stroke="none"/>
<rect x="11.6" y="-1.6" width="3.8" height="4.8" fill="#c4c4c4" stroke="none" opacity="0.85"/>
</g>
<g transform="translate(58.00 500.00)" fill="#fff" stroke="#141414" stroke-width="1.15" stroke-linejoin="round" stroke-linecap="round">
<path d="M21.0 3.6 C23.6 0.4 23.6 -5.0 22.4 -9.4 C21.6 -12.6 20.4 -15.4 20.0 -18.0" fill="none" stroke-width="1.5"/>
<path d="M0 0 C2.4 -2.2 5.4 -4.0 8.0 -5.2 C7.4 -7.2 8.8 -8.4 10.4 -8.0 C12.2 -7.8 12.9 -6.2 12.2 -4.9 C15.2 -6.6 19.6 -5.4 21.4 -1.8 C22.6 0.8 22.0 3.4 20.0 4.9 C17.2 6.8 14.4 6.8 12.2 6.0 C12.9 7.3 12.0 8.6 10.4 8.7 C8.6 8.9 7.4 7.6 8.0 5.7 C5.4 4.4 2.4 2.4 0 0 Z"/>
<path d="M12.2 -4.9 C11.8 -4.2 11.4 -3.6 11.0 -3.2 M12.2 6.0 C11.8 5.4 11.4 4.9 11.0 4.4" fill="none" stroke-width="0.8"/>
<circle cx="6.0" cy="-1.9" r="0.8" fill="#141414" stroke="none"/>
<circle cx="6.0" cy="2.1" r="0.8" fill="#141414" stroke="none"/>
<rect x="11.6" y="-1.6" width="3.8" height="4.8" fill="#c4c4c4" stroke="none" opacity="0.85"/>
</g>
<text transform="translate(10.00 516.40) scale(1.0608 1.0000)" x="0.00" y="0" font-size="8.60" fill="#141414" stroke="#141414" stroke-width="0.20">Gabbr1<tspan font-size="5.50" dy="-4.04" letter-spacing="0.10" dx="0.70">-/-</tspan></text>
<text transform="translate(54.40 516.40) scale(1.0672 1.0000)" x="0.00" y="0" font-size="8.60" fill="#141414" stroke="#141414" stroke-width="0.20">Gabbr1<tspan font-size="5.50" dy="-4.04" letter-spacing="0.60" dx="0.35">+/+</tspan></text>
<line x1="30.40" y1="520.00" x2="30.40" y2="527.24" stroke="#141414" stroke-width="1.60" stroke-linecap="butt"/>
<path d="M30.40 531.20 L26.70 523.20 L30.40 525.00 L34.10 523.20 Z" fill="#141414"/>
<line x1="70.40" y1="520.00" x2="70.40" y2="527.24" stroke="#141414" stroke-width="1.60" stroke-linecap="butt"/>
<path d="M70.40 531.20 L66.70 523.20 L70.40 525.00 L74.10 523.20 Z" fill="#141414"/>
<text transform="translate(42.00 534.40) scale(1.0639 1.0000)" x="0.00" y="0" font-size="8.50" fill="#141414" stroke="#141414" stroke-width="0.20">48 h</text>
<text transform="translate(35.60 544.60) scale(0.9899 1.0000)" x="0.00" y="0" font-size="8.50" fill="#141414" stroke="#141414" stroke-width="0.20">analysis</text>
<line x1="184.30" y1="494.40" x2="184.30" y2="487.10" stroke="#141414" stroke-width="1.10" stroke-linecap="butt"/>
<line x1="179.55" y1="487.10" x2="189.05" y2="487.10" stroke="#141414" stroke-width="1.10" stroke-linecap="butt"/>
<rect x="174.90" y="493.90" width="18.80" height="46.80" fill="#a30026"/>
<line x1="213.25" y1="513.50" x2="213.25" y2="509.20" stroke="#141414" stroke-width="1.10" stroke-linecap="butt"/>
<line x1="208.50" y1="509.20" x2="218.00" y2="509.20" stroke="#141414" stroke-width="1.10" stroke-linecap="butt"/>
<rect x="204.00" y="513.30" width="18.50" height="27.40" fill="#2c4a7c" stroke="#3a5a94" stroke-width="0.60"/>
<text transform="translate(213.40 508.11)" x="-1.71" y="0" font-size="8.80" fill="#141414" stroke="#141414" stroke-width="0.20">*</text>
<line x1="184.30" y1="540.70" x2="184.30" y2="543.90" stroke="#141414" stroke-width="1.15" stroke-linecap="butt"/>
<line x1="213.30" y1="540.70" x2="213.30" y2="543.90" stroke="#141414" stroke-width="1.15" stroke-linecap="butt"/>
<text transform="translate(124.70 526.70) rotate(-90) scale(0.8234 1.0000)" x="0.00" y="0" font-size="10.20" fill="#141414" stroke="#141414" stroke-width="0.20">BrdU<tspan font-size="7.55" dy="-3.88">+</tspan><tspan dy="3.88"> cells %</tspan></text>
<text transform="translate(138.20 520.80) rotate(-90) scale(0.7694 1.0000)" x="0.00" y="0" font-size="10.20" fill="#141414" stroke="#141414" stroke-width="0.20">in LSK cells</text>
<text transform="translate(188.50 552.30) rotate(-45) scale(1.0278 1.0000)" x="-41.35" y="0" font-size="9.20" fill="#141414" stroke="#141414" stroke-width="0.20">Gabbr1<tspan font-size="5.89" dy="-4.32" letter-spacing="0.60" dx="0.35">+/+</tspan></text>
<text transform="translate(217.90 552.90) rotate(-45) scale(1.0472 1.0000)" x="-37.24" y="0" font-size="9.20" fill="#141414" stroke="#141414" stroke-width="0.20">Gabbr1<tspan font-size="5.89" dy="-4.32" letter-spacing="0.10" dx="0.70">-/-</tspan></text>
<line x1="327.30" y1="500.30" x2="327.30" y2="493.30" stroke="#141414" stroke-width="1.10" stroke-linecap="butt"/>
<line x1="322.55" y1="493.30" x2="332.05" y2="493.30" stroke="#141414" stroke-width="1.10" stroke-linecap="butt"/>
<rect x="317.90" y="499.80" width="18.80" height="40.90" fill="#a30026"/>
<line x1="355.65" y1="518.30" x2="355.65" y2="516.20" stroke="#141414" stroke-width="1.10" stroke-linecap="butt"/>
<line x1="350.90" y1="516.20" x2="360.40" y2="516.20" stroke="#141414" stroke-width="1.10" stroke-linecap="butt"/>
<rect x="346.40" y="518.10" width="18.50" height="22.60" fill="#2c4a7c" stroke="#3a5a94" stroke-width="0.60"/>
<text transform="translate(355.50 515.71)" x="-1.71" y="0" font-size="8.80" fill="#141414" stroke="#141414" stroke-width="0.20">*</text>
<line x1="327.30" y1="540.70" x2="327.30" y2="543.90" stroke="#141414" stroke-width="1.15" stroke-linecap="butt"/>
<line x1="355.70" y1="540.70" x2="355.70" y2="543.90" stroke="#141414" stroke-width="1.15" stroke-linecap="butt"/>
<text transform="translate(268.00 526.70) rotate(-90) scale(0.8234 1.0000)" x="0.00" y="0" font-size="10.20" fill="#141414" stroke="#141414" stroke-width="0.20">BrdU<tspan font-size="7.55" dy="-3.88">+</tspan><tspan dy="3.88"> cells %</tspan></text>
<text transform="translate(281.50 515.40) rotate(-90) scale(0.7565 1.0000)" x="0.00" y="0" font-size="10.20" fill="#141414" stroke="#141414" stroke-width="0.20">in HSCs</text>
<text transform="translate(331.50 552.30) rotate(-45) scale(1.0278 1.0000)" x="-41.35" y="0" font-size="9.20" fill="#141414" stroke="#141414" stroke-width="0.20">Gabbr1<tspan font-size="5.89" dy="-4.32" letter-spacing="0.60" dx="0.35">+/+</tspan></text>
<text transform="translate(360.30 552.90) rotate(-45) scale(1.0472 1.0000)" x="-37.24" y="0" font-size="9.20" fill="#141414" stroke="#141414" stroke-width="0.20">Gabbr1<tspan font-size="5.89" dy="-4.32" letter-spacing="0.10" dx="0.70">-/-</tspan></text>
<text transform="translate(398.50 453.75) scale(0.9506 1.0000)" x="0.00" y="0" font-size="12.40" font-weight="bold" fill="#000" stroke="#000" stroke-width="0.25">F</text>
<text transform="translate(410.50 453.75) scale(1.0376 1.0000)" x="0.00" y="0" font-size="8.60" fill="#141414" stroke="#141414" stroke-width="0.20">Gabbr1<tspan font-size="5.50" dy="-4.04" letter-spacing="0.60" dx="0.35">+/+</tspan></text>
<text transform="translate(464.50 453.75) scale(1.0751 1.0000)" x="0.00" y="0" font-size="8.60" fill="#141414" stroke="#141414" stroke-width="0.20">Gabbr1<tspan font-size="5.50" dy="-4.04" letter-spacing="0.10" dx="0.70">-/-</tspan></text>
<text transform="translate(420.50 465.50) scale(0.9650 1.0000)" x="0.00" y="0" font-size="8.50" fill="#141414" stroke="#141414" stroke-width="0.20">4,000 LSK cells</text>
<text transform="translate(477.00 478.00) scale(0.9760 1.0000)" x="0.00" y="0" font-size="8.50" fill="#141414" stroke="#141414" stroke-width="0.20">OP9 cells</text>
<text transform="translate(455.75 493.25) scale(1.0066 1.0000)" x="0.00" y="0" font-size="8.50" fill="#141414" stroke="#141414" stroke-width="0.20">IL-7 (1ng/ml)</text>
<text transform="translate(455.75 506.75) scale(0.9782 1.0000)" x="0.00" y="0" font-size="8.50" fill="#141414" stroke="#141414" stroke-width="0.20">Flt-3L(5ng/ml)</text>
<text transform="translate(458.75 540.50) scale(0.9796 1.0000)" x="0.00" y="0" font-size="8.50" fill="#141414" stroke="#141414" stroke-width="0.20">day 14</text>
<text transform="translate(424.50 553.00) scale(0.9409 1.0000)" x="0.00" y="0" font-size="8.50" fill="#141414" stroke="#141414" stroke-width="0.20">Flow analysis</text>
<text transform="translate(408.00 562.50) scale(0.9937 1.0000)" x="0.00" y="0" font-size="8.50" fill="#141414" stroke="#141414" stroke-width="0.20">(CD19, B220, CD11b)</text>
<line x1="450.75" y1="491.25" x2="450.75" y2="501.02" stroke="#141414" stroke-width="1.40" stroke-linecap="butt"/>
<path d="M450.75 503.90 L447.95 497.70 L450.75 499.50 L453.55 497.70 Z" fill="#141414"/>
<line x1="450.75" y1="530.00" x2="450.75" y2="539.32" stroke="#141414" stroke-width="1.40" stroke-linecap="butt"/>
<path d="M450.75 542.20 L447.95 536.00 L450.75 537.80 L453.55 536.00 Z" fill="#141414"/>
<g>
<path d="M424.1 473.2 V478.4 A24.6 3.9 0 0 0 473.3 478.4 V473.2 Z" fill="#fff"/>
<path d="M427.5 477.6 A22 3.2 0 0 0 470 477.6" fill="none" stroke="#f1d84e" stroke-width="1.7"/>
<path d="M427.6 479.6 C430.0 479.2 431.6 477.4 433.6 477.0 C435.6 477.4 437.6 479.0 440.4 479.8 C437 481.0 431 481.0 427.6 479.6 Z" fill="#8ba638" stroke="#f4f4f4" stroke-width="0.5"/>
<path d="M439.6 481.4 C442.4 481.0 444.6 479.4 447.2 479.0 C449.8 479.4 452.2 480.6 455.0 481.4 C450 482.8 444 482.8 439.6 481.4 Z" fill="#94ad3c" stroke="#f4f4f4" stroke-width="0.5"/>
<path d="M452.6 479.6 C455.6 478.8 457.6 476.0 460.0 475.4 C462.6 476.0 465.2 478.6 468.6 479.4 C463.6 481.0 457.6 481.0 452.6 479.6 Z" fill="#8ba638" stroke="#f4f4f4" stroke-width="0.5"/>
<circle cx="434.0" cy="478.9" r="0.8" fill="#d9d85a"/><circle cx="447.4" cy="480.8" r="0.8" fill="#d9d85a"/><circle cx="460.4" cy="477.8" r="0.9" fill="#d9d85a"/>
<path d="M424.1 478.4 A24.6 3.9 0 0 0 473.3 478.4" fill="none" stroke="#a4a4a4" stroke-width="1.0"/>
<path d="M424.1 473.2 V478.4 M473.3 473.2 V478.4" fill="none" stroke="#6a6a6a" stroke-width="1.1"/>
<ellipse cx="448.7" cy="473.4" rx="24.6" ry="3.5" fill="none" stroke="#5a5a5a" stroke-width="1.7"/>
</g>
<g>
<ellipse cx="450.6" cy="518.2" rx="30.5" ry="10.0" fill="url(#gglow)"/>
<path d="M424.9 517.2 V522.4 A26.5 4.8 0 0 0 477.9 522.4 V517.2 Z" fill="#dde5f6" stroke="#44528c" stroke-width="0.9"/>
<path d="M428 524.0 C431 523.6 433 521.8 435.4 521.4 C438 521.8 440 523.2 443 524.0 C438 525.2 432 525.2 428 524.0 Z" fill="#a3b75c"/>
<path d="M440 525.6 C443 525.2 445.4 523.8 448 523.4 C450.6 523.8 453 525.0 456 525.6 C451 526.8 445 526.8 440 525.6 Z" fill="#adbf62"/>
<path d="M454 523.8 C457 523.2 459 521.6 461.4 521.2 C464 521.6 466.4 523.0 469.6 523.8 C464.6 525.0 458.6 525.0 454 523.8 Z" fill="#a3b75c"/>
<path d="M430 525.2 A22 2.6 0 0 0 472 524.6" fill="none" stroke="#ecd95e" stroke-width="1.2" opacity="0.9"/>
<ellipse cx="451.4" cy="517.2" rx="26.5" ry="5.0" fill="url(#gmed)" stroke="#3f4d88" stroke-width="1.1"/>
<ellipse cx="433.6" cy="517.7" rx="4.4" ry="2.6" fill="url(#gc1)"/>
<ellipse cx="448.6" cy="517.7" rx="4.5" ry="2.7" fill="url(#gc2)"/>
<ellipse cx="463.7" cy="517.7" rx="4.4" ry="2.6" fill="url(#gc3)"/>
<path d="M477.9 517.2 V522.4" stroke="#3f4d88" stroke-width="1.3"/>
</g>
<text transform="translate(8.00 605.90) scale(1.0057 1.0000)" x="0.00" y="0" font-size="12.40" font-weight="bold" fill="#000" stroke="#000" stroke-width="0.25">G</text>
<line x1="57.25" y1="628.75" x2="57.25" y2="622.00" stroke="#141414" stroke-width="1.10" stroke-linecap="butt"/>
<line x1="51.25" y1="622.00" x2="63.25" y2="622.00" stroke="#141414" stroke-width="1.10" stroke-linecap="butt"/>
<rect x="45.00" y="628.25" width="24.50" height="64.50" fill="#a30026"/>
<line x1="94.75" y1="661.75" x2="94.75" y2="657.75" stroke="#141414" stroke-width="1.10" stroke-linecap="butt"/>
<line x1="88.75" y1="657.75" x2="100.75" y2="657.75" stroke="#141414" stroke-width="1.10" stroke-linecap="butt"/>
<rect x="82.80" y="661.55" width="23.90" height="31.20" fill="#2c4a7c" stroke="#3a5a94" stroke-width="0.60"/>
<text transform="translate(94.80 657.85)" x="-4.76" y="0" font-size="7.90" fill="#141414" stroke="#141414" stroke-width="0.20"><tspan font-size="7.90" dy="0.00" letter-spacing="0.10">***</tspan></text>
<line x1="57.25" y1="692.75" x2="57.25" y2="695.95" stroke="#141414" stroke-width="1.15" stroke-linecap="butt"/>
<line x1="94.75" y1="692.75" x2="94.75" y2="695.95" stroke="#141414" stroke-width="1.15" stroke-linecap="butt"/>
<text transform="translate(20.80 692.00) rotate(-90) scale(0.8266 1.0000)" x="0.00" y="0" font-size="10.40" fill="#141414" stroke="#141414" stroke-width="0.20">No. of CD45 (1x10<tspan font-size="7.49" dy="-4.16">6</tspan><tspan dy="4.16">)</tspan></text>
<text transform="translate(61.45 704.35) rotate(-45) scale(1.0278 1.0000)" x="-41.35" y="0" font-size="9.20" fill="#141414" stroke="#141414" stroke-width="0.20">Gabbr1<tspan font-size="5.89" dy="-4.32" letter-spacing="0.60" dx="0.35">+/+</tspan></text>
<text transform="translate(99.35 704.95) rotate(-45) scale(1.0472 1.0000)" x="-37.24" y="0" font-size="9.20" fill="#141414" stroke="#141414" stroke-width="0.20">Gabbr1<tspan font-size="5.89" dy="-4.32" letter-spacing="0.10" dx="0.70">-/-</tspan></text>
<text transform="translate(131.50 605.90) scale(1.0274 1.0000)" x="0.00" y="0" font-size="12.40" font-weight="bold" fill="#000" stroke="#000" stroke-width="0.25">H</text>
<line x1="180.25" y1="634.75" x2="180.25" y2="628.25" stroke="#141414" stroke-width="1.10" stroke-linecap="butt"/>
<line x1="174.25" y1="628.25" x2="186.25" y2="628.25" stroke="#141414" stroke-width="1.10" stroke-linecap="butt"/>
<rect x="168.00" y="634.25" width="24.50" height="58.25" fill="#a30026"/>
<line x1="217.75" y1="668.00" x2="217.75" y2="664.50" stroke="#141414" stroke-width="1.10" stroke-linecap="butt"/>
<line x1="211.75" y1="664.50" x2="223.75" y2="664.50" stroke="#141414" stroke-width="1.10" stroke-linecap="butt"/>
<rect x="205.80" y="667.80" width="23.90" height="24.70" fill="#2c4a7c" stroke="#3a5a94" stroke-width="0.60"/>
<text transform="translate(217.80 664.35)" x="-4.76" y="0" font-size="7.90" fill="#141414" stroke="#141414" stroke-width="0.20"><tspan font-size="7.90" dy="0.00" letter-spacing="0.10">***</tspan></text>
<line x1="180.25" y1="692.50" x2="180.25" y2="695.70" stroke="#141414" stroke-width="1.15" stroke-linecap="butt"/>
<line x1="217.75" y1="692.50" x2="217.75" y2="695.70" stroke="#141414" stroke-width="1.15" stroke-linecap="butt"/>
<text transform="translate(143.30 692.00) rotate(-90) scale(0.8266 1.0000)" x="0.00" y="0" font-size="10.40" fill="#141414" stroke="#141414" stroke-width="0.20">No. of CD19 (1x10<tspan font-size="7.49" dy="-4.16">6</tspan><tspan dy="4.16">)</tspan></text>
<text transform="translate(184.45 704.10) rotate(-45) scale(1.0278 1.0000)" x="-41.35" y="0" font-size="9.20" fill="#141414" stroke="#141414" stroke-width="0.20">Gabbr1<tspan font-size="5.89" dy="-4.32" letter-spacing="0.60" dx="0.35">+/+</tspan></text>
<text transform="translate(222.35 704.70) rotate(-45) scale(1.0472 1.0000)" x="-37.24" y="0" font-size="9.20" fill="#141414" stroke="#141414" stroke-width="0.20">Gabbr1<tspan font-size="5.89" dy="-4.32" letter-spacing="0.10" dx="0.70">-/-</tspan></text>
<text transform="translate(0.00 605.90)" x="0.00" y="0" font-size="12.40" font-weight="bold" fill="#000" stroke="#000" stroke-width="0.25"></text>
<line x1="304.00" y1="636.00" x2="304.00" y2="629.50" stroke="#141414" stroke-width="1.10" stroke-linecap="butt"/>
<line x1="298.00" y1="629.50" x2="310.00" y2="629.50" stroke="#141414" stroke-width="1.10" stroke-linecap="butt"/>
<rect x="291.75" y="635.50" width="24.50" height="57.25" fill="#a30026"/>
<line x1="341.50" y1="668.75" x2="341.50" y2="665.25" stroke="#141414" stroke-width="1.10" stroke-linecap="butt"/>
<line x1="335.50" y1="665.25" x2="347.50" y2="665.25" stroke="#141414" stroke-width="1.10" stroke-linecap="butt"/>
<rect x="329.55" y="668.55" width="23.90" height="24.20" fill="#2c4a7c" stroke="#3a5a94" stroke-width="0.60"/>
<text transform="translate(341.55 665.35)" x="-4.76" y="0" font-size="7.90" fill="#141414" stroke="#141414" stroke-width="0.20"><tspan font-size="7.90" dy="0.00" letter-spacing="0.10">***</tspan></text>
<line x1="304.00" y1="692.75" x2="304.00" y2="695.95" stroke="#141414" stroke-width="1.15" stroke-linecap="butt"/>
<line x1="341.50" y1="692.75" x2="341.50" y2="695.95" stroke="#141414" stroke-width="1.15" stroke-linecap="butt"/>
<text transform="translate(267.00 692.00) rotate(-90) scale(0.8419 1.0000)" x="0.00" y="0" font-size="10.40" fill="#141414" stroke="#141414" stroke-width="0.20">No. of B220 (1x10<tspan font-size="7.49" dy="-4.16">6</tspan><tspan dy="4.16">)</tspan></text>
<text transform="translate(308.20 704.35) rotate(-45) scale(1.0278 1.0000)" x="-41.35" y="0" font-size="9.20" fill="#141414" stroke="#141414" stroke-width="0.20">Gabbr1<tspan font-size="5.89" dy="-4.32" letter-spacing="0.60" dx="0.35">+/+</tspan></text>
<text transform="translate(346.10 704.95) rotate(-45) scale(1.0472 1.0000)" x="-37.24" y="0" font-size="9.20" fill="#141414" stroke="#141414" stroke-width="0.20">Gabbr1<tspan font-size="5.89" dy="-4.32" letter-spacing="0.10" dx="0.70">-/-</tspan></text>
<text transform="translate(377.70 605.90) scale(1.0159 1.0000)" x="0.00" y="0" font-size="12.40" font-weight="bold" fill="#000" stroke="#000" stroke-width="0.25">I</text>
<line x1="427.55" y1="643.30" x2="427.55" y2="628.10" stroke="#141414" stroke-width="1.10" stroke-linecap="butt"/>
<line x1="421.55" y1="628.10" x2="433.55" y2="628.10" stroke="#141414" stroke-width="1.10" stroke-linecap="butt"/>
<rect x="415.30" y="642.80" width="24.50" height="49.60" fill="#a30026"/>
<line x1="465.05" y1="651.60" x2="465.05" y2="647.40" stroke="#141414" stroke-width="1.10" stroke-linecap="butt"/>
<line x1="459.05" y1="647.40" x2="471.05" y2="647.40" stroke="#141414" stroke-width="1.10" stroke-linecap="butt"/>
<rect x="453.10" y="651.40" width="23.90" height="41.00" fill="#2c4a7c" stroke="#3a5a94" stroke-width="0.60"/>
<line x1="427.55" y1="692.40" x2="427.55" y2="695.60" stroke="#141414" stroke-width="1.15" stroke-linecap="butt"/>
<line x1="465.05" y1="692.40" x2="465.05" y2="695.60" stroke="#141414" stroke-width="1.15" stroke-linecap="butt"/>
<text transform="translate(389.50 694.40) rotate(-90) scale(0.8241 1.0000)" x="0.00" y="0" font-size="10.40" fill="#141414" stroke="#141414" stroke-width="0.20">No. of CD11b (1x10<tspan font-size="7.49" dy="-4.16">5</tspan><tspan dy="4.16">)</tspan></text>
<text transform="translate(431.75 704.00) rotate(-45) scale(1.0278 1.0000)" x="-41.35" y="0" font-size="9.20" fill="#141414" stroke="#141414" stroke-width="0.20">Gabbr1<tspan font-size="5.89" dy="-4.32" letter-spacing="0.60" dx="0.35">+/+</tspan></text>
<text transform="translate(469.65 704.60) rotate(-45) scale(1.0472 1.0000)" x="-37.24" y="0" font-size="9.20" fill="#141414" stroke="#141414" stroke-width="0.20">Gabbr1<tspan font-size="5.89" dy="-4.32" letter-spacing="0.10" dx="0.70">-/-</tspan></text>
<line x1="210.50" y1="34.50" x2="210.50" y2="114.42" stroke="#141414" stroke-width="1.35" stroke-linecap="butt"/>
<line x1="206.70" y1="37.20" x2="210.50" y2="37.20" stroke="#141414" stroke-width="1.28" stroke-linecap="butt"/>
<text transform="translate(204.00 40.58)" x="-10.46" y="0" font-size="9.40" fill="#141414" stroke="#141414" stroke-width="0.14">80</text>
<line x1="206.70" y1="56.45" x2="210.50" y2="56.45" stroke="#141414" stroke-width="1.28" stroke-linecap="butt"/>
<text transform="translate(204.00 59.83)" x="-10.46" y="0" font-size="9.40" fill="#141414" stroke="#141414" stroke-width="0.14">60</text>
<line x1="206.70" y1="75.50" x2="210.50" y2="75.50" stroke="#141414" stroke-width="1.28" stroke-linecap="butt"/>
<text transform="translate(204.00 78.88)" x="-10.46" y="0" font-size="9.40" fill="#141414" stroke="#141414" stroke-width="0.14">40</text>
<line x1="206.70" y1="94.70" x2="210.50" y2="94.70" stroke="#141414" stroke-width="1.28" stroke-linecap="butt"/>
<text transform="translate(204.00 98.08)" x="-10.46" y="0" font-size="9.40" fill="#141414" stroke="#141414" stroke-width="0.14">20</text>
<line x1="206.70" y1="113.95" x2="210.50" y2="113.95" stroke="#141414" stroke-width="1.28" stroke-linecap="butt"/>
<text transform="translate(204.00 117.33)" x="-5.23" y="0" font-size="9.40" fill="#141414" stroke="#141414" stroke-width="0.14">0</text>
<line x1="207.00" y1="113.75" x2="300.50" y2="113.75" stroke="#141414" stroke-width="1.35" stroke-linecap="butt"/>
<line x1="68.50" y1="164.50" x2="68.50" y2="243.93" stroke="#141414" stroke-width="1.35" stroke-linecap="butt"/>
<line x1="65.20" y1="167.20" x2="68.50" y2="167.20" stroke="#141414" stroke-width="1.28" stroke-linecap="butt"/>
<text transform="translate(60.70 170.33)" x="-24.19" y="0" font-size="8.70" fill="#141414" stroke="#141414" stroke-width="0.14">12000</text>
<line x1="65.20" y1="180.20" x2="68.50" y2="180.20" stroke="#141414" stroke-width="1.28" stroke-linecap="butt"/>
<text transform="translate(60.70 183.33)" x="-24.19" y="0" font-size="8.70" fill="#141414" stroke="#141414" stroke-width="0.14">10000</text>
<line x1="65.20" y1="192.95" x2="68.50" y2="192.95" stroke="#141414" stroke-width="1.28" stroke-linecap="butt"/>
<text transform="translate(60.70 196.08)" x="-19.35" y="0" font-size="8.70" fill="#141414" stroke="#141414" stroke-width="0.14">8000</text>
<line x1="65.20" y1="205.70" x2="68.50" y2="205.70" stroke="#141414" stroke-width="1.28" stroke-linecap="butt"/>
<text transform="translate(60.70 208.83)" x="-19.35" y="0" font-size="8.70" fill="#141414" stroke="#141414" stroke-width="0.14">6000</text>
<line x1="65.20" y1="218.20" x2="68.50" y2="218.20" stroke="#141414" stroke-width="1.28" stroke-linecap="butt"/>
<text transform="translate(60.70 221.33)" x="-19.35" y="0" font-size="8.70" fill="#141414" stroke="#141414" stroke-width="0.14">4000</text>
<line x1="65.20" y1="230.95" x2="68.50" y2="230.95" stroke="#141414" stroke-width="1.28" stroke-linecap="butt"/>
<text transform="translate(60.70 234.08)" x="-19.35" y="0" font-size="8.70" fill="#141414" stroke="#141414" stroke-width="0.14">2000</text>
<line x1="65.20" y1="243.45" x2="68.50" y2="243.45" stroke="#141414" stroke-width="1.28" stroke-linecap="butt"/>
<text transform="translate(60.70 246.58)" x="-4.84" y="0" font-size="8.70" fill="#141414" stroke="#141414" stroke-width="0.14">0</text>
<line x1="65.50" y1="243.25" x2="174.50" y2="243.25" stroke="#141414" stroke-width="1.35" stroke-linecap="butt"/>
<line x1="236.00" y1="164.30" x2="236.00" y2="244.43" stroke="#141414" stroke-width="1.35" stroke-linecap="butt"/>
<line x1="233.45" y1="167.70" x2="236.00" y2="167.70" stroke="#141414" stroke-width="1.28" stroke-linecap="butt"/>
<text transform="translate(230.20 171.08)" x="-10.46" y="0" font-size="9.40" fill="#141414" stroke="#141414" stroke-width="0.14">80</text>
<line x1="233.45" y1="186.95" x2="236.00" y2="186.95" stroke="#141414" stroke-width="1.28" stroke-linecap="butt"/>
<text transform="translate(230.20 190.33)" x="-10.46" y="0" font-size="9.40" fill="#141414" stroke="#141414" stroke-width="0.14">60</text>
<line x1="233.45" y1="205.95" x2="236.00" y2="205.95" stroke="#141414" stroke-width="1.28" stroke-linecap="butt"/>
<text transform="translate(230.20 209.33)" x="-10.46" y="0" font-size="9.40" fill="#141414" stroke="#141414" stroke-width="0.14">40</text>
<line x1="233.45" y1="224.95" x2="236.00" y2="224.95" stroke="#141414" stroke-width="1.28" stroke-linecap="butt"/>
<text transform="translate(230.20 228.33)" x="-10.46" y="0" font-size="9.40" fill="#141414" stroke="#141414" stroke-width="0.14">20</text>
<line x1="233.45" y1="243.95" x2="236.00" y2="243.95" stroke="#141414" stroke-width="1.28" stroke-linecap="butt"/>
<text transform="translate(230.20 247.33)" x="-5.23" y="0" font-size="9.40" fill="#141414" stroke="#141414" stroke-width="0.14">0</text>
<line x1="233.75" y1="243.75" x2="333.75" y2="243.75" stroke="#141414" stroke-width="1.35" stroke-linecap="butt"/>
<line x1="156.90" y1="309.80" x2="156.90" y2="389.07" stroke="#141414" stroke-width="1.35" stroke-linecap="butt"/>
<line x1="152.70" y1="312.70" x2="156.90" y2="312.70" stroke="#141414" stroke-width="1.28" stroke-linecap="butt"/>
<text transform="translate(149.70 316.08)" x="-10.46" y="0" font-size="9.40" fill="#141414" stroke="#141414" stroke-width="0.14">20</text>
<line x1="152.70" y1="331.80" x2="156.90" y2="331.80" stroke="#141414" stroke-width="1.28" stroke-linecap="butt"/>
<text transform="translate(149.70 335.18)" x="-10.46" y="0" font-size="9.40" fill="#141414" stroke="#141414" stroke-width="0.14">15</text>
<line x1="152.70" y1="350.80" x2="156.90" y2="350.80" stroke="#141414" stroke-width="1.28" stroke-linecap="butt"/>
<text transform="translate(149.70 354.18)" x="-10.46" y="0" font-size="9.40" fill="#141414" stroke="#141414" stroke-width="0.14">10</text>
<line x1="152.70" y1="369.70" x2="156.90" y2="369.70" stroke="#141414" stroke-width="1.28" stroke-linecap="butt"/>
<text transform="translate(149.70 373.08)" x="-5.23" y="0" font-size="9.40" fill="#141414" stroke="#141414" stroke-width="0.14">5</text>
<line x1="152.70" y1="388.60" x2="156.90" y2="388.60" stroke="#141414" stroke-width="1.28" stroke-linecap="butt"/>
<text transform="translate(149.70 391.98)" x="-5.23" y="0" font-size="9.40" fill="#141414" stroke="#141414" stroke-width="0.14">0</text>
<line x1="153.00" y1="388.40" x2="233.80" y2="388.40" stroke="#141414" stroke-width="1.35" stroke-linecap="butt"/>
<line x1="282.50" y1="310.40" x2="282.50" y2="388.57" stroke="#141414" stroke-width="1.35" stroke-linecap="butt"/>
<line x1="278.50" y1="313.70" x2="282.50" y2="313.70" stroke="#141414" stroke-width="1.28" stroke-linecap="butt"/>
<text transform="translate(275.30 317.08)" x="-10.46" y="0" font-size="9.40" fill="#141414" stroke="#141414" stroke-width="0.14">60</text>
<line x1="278.50" y1="338.50" x2="282.50" y2="338.50" stroke="#141414" stroke-width="1.28" stroke-linecap="butt"/>
<text transform="translate(275.30 341.88)" x="-10.46" y="0" font-size="9.40" fill="#141414" stroke="#141414" stroke-width="0.14">40</text>
<line x1="278.50" y1="363.30" x2="282.50" y2="363.30" stroke="#141414" stroke-width="1.28" stroke-linecap="butt"/>
<text transform="translate(275.30 366.68)" x="-10.46" y="0" font-size="9.40" fill="#141414" stroke="#141414" stroke-width="0.14">20</text>
<line x1="278.50" y1="388.10" x2="282.50" y2="388.10" stroke="#141414" stroke-width="1.28" stroke-linecap="butt"/>
<text transform="translate(275.30 391.48)" x="-5.23" y="0" font-size="9.40" fill="#141414" stroke="#141414" stroke-width="0.14">0</text>
<line x1="278.80" y1="387.90" x2="377.30" y2="387.90" stroke="#141414" stroke-width="1.35" stroke-linecap="butt"/>
<line x1="160.40" y1="461.00" x2="160.40" y2="541.38" stroke="#141414" stroke-width="1.35" stroke-linecap="butt"/>
<line x1="156.70" y1="464.10" x2="160.40" y2="464.10" stroke="#141414" stroke-width="1.28" stroke-linecap="butt"/>
<text transform="translate(153.10 467.27)" x="-9.79" y="0" font-size="8.80" fill="#141414" stroke="#141414" stroke-width="0.14">15</text>
<line x1="156.70" y1="489.70" x2="160.40" y2="489.70" stroke="#141414" stroke-width="1.28" stroke-linecap="butt"/>
<text transform="translate(153.10 492.87)" x="-9.79" y="0" font-size="8.80" fill="#141414" stroke="#141414" stroke-width="0.14">10</text>
<line x1="156.70" y1="515.30" x2="160.40" y2="515.30" stroke="#141414" stroke-width="1.28" stroke-linecap="butt"/>
<text transform="translate(153.10 518.47)" x="-4.89" y="0" font-size="8.80" fill="#141414" stroke="#141414" stroke-width="0.14">5</text>
<line x1="156.70" y1="540.90" x2="160.40" y2="540.90" stroke="#141414" stroke-width="1.28" stroke-linecap="butt"/>
<text transform="translate(153.10 544.07)" x="-4.89" y="0" font-size="8.80" fill="#141414" stroke="#141414" stroke-width="0.14">0</text>
<line x1="157.00" y1="540.70" x2="237.30" y2="540.70" stroke="#141414" stroke-width="1.35" stroke-linecap="butt"/>
<line x1="303.30" y1="461.30" x2="303.30" y2="541.38" stroke="#141414" stroke-width="1.35" stroke-linecap="butt"/>
<line x1="300.00" y1="464.40" x2="303.30" y2="464.40" stroke="#141414" stroke-width="1.28" stroke-linecap="butt"/>
<text transform="translate(296.10 467.57)" x="-9.79" y="0" font-size="8.80" fill="#141414" stroke="#141414" stroke-width="0.14">15</text>
<line x1="300.00" y1="490.20" x2="303.30" y2="490.20" stroke="#141414" stroke-width="1.28" stroke-linecap="butt"/>
<text transform="translate(296.10 493.37)" x="-9.79" y="0" font-size="8.80" fill="#141414" stroke="#141414" stroke-width="0.14">10</text>
<line x1="300.00" y1="515.60" x2="303.30" y2="515.60" stroke="#141414" stroke-width="1.28" stroke-linecap="butt"/>
<text transform="translate(296.10 518.77)" x="-4.89" y="0" font-size="8.80" fill="#141414" stroke="#141414" stroke-width="0.14">5</text>
<line x1="300.00" y1="540.90" x2="303.30" y2="540.90" stroke="#141414" stroke-width="1.28" stroke-linecap="butt"/>
<text transform="translate(296.10 544.07)" x="-4.89" y="0" font-size="8.80" fill="#141414" stroke="#141414" stroke-width="0.14">0</text>
<line x1="300.30" y1="540.70" x2="380.00" y2="540.70" stroke="#141414" stroke-width="1.35" stroke-linecap="butt"/>
<line x1="38.40" y1="614.50" x2="38.40" y2="693.42" stroke="#141414" stroke-width="1.35" stroke-linecap="butt"/>
<line x1="35.10" y1="617.20" x2="38.40" y2="617.20" stroke="#141414" stroke-width="1.28" stroke-linecap="butt"/>
<text transform="translate(32.00 620.58)" x="-5.23" y="0" font-size="9.40" fill="#141414" stroke="#141414" stroke-width="0.14">6</text>
<line x1="35.10" y1="642.60" x2="38.40" y2="642.60" stroke="#141414" stroke-width="1.28" stroke-linecap="butt"/>
<text transform="translate(32.00 645.98)" x="-5.23" y="0" font-size="9.40" fill="#141414" stroke="#141414" stroke-width="0.14">4</text>
<line x1="35.10" y1="667.80" x2="38.40" y2="667.80" stroke="#141414" stroke-width="1.28" stroke-linecap="butt"/>
<text transform="translate(32.00 671.18)" x="-5.23" y="0" font-size="9.40" fill="#141414" stroke="#141414" stroke-width="0.14">2</text>
<line x1="35.10" y1="692.95" x2="38.40" y2="692.95" stroke="#141414" stroke-width="1.28" stroke-linecap="butt"/>
<text transform="translate(32.00 696.33)" x="-5.23" y="0" font-size="9.40" fill="#141414" stroke="#141414" stroke-width="0.14">0</text>
<line x1="35.40" y1="692.75" x2="113.75" y2="692.75" stroke="#141414" stroke-width="1.35" stroke-linecap="butt"/>
<line x1="161.75" y1="614.50" x2="161.75" y2="693.17" stroke="#141414" stroke-width="1.35" stroke-linecap="butt"/>
<line x1="158.45" y1="617.20" x2="161.75" y2="617.20" stroke="#141414" stroke-width="1.28" stroke-linecap="butt"/>
<text transform="translate(155.00 620.58)" x="-5.23" y="0" font-size="9.40" fill="#141414" stroke="#141414" stroke-width="0.14">5</text>
<line x1="158.45" y1="632.50" x2="161.75" y2="632.50" stroke="#141414" stroke-width="1.28" stroke-linecap="butt"/>
<text transform="translate(155.00 635.88)" x="-5.23" y="0" font-size="9.40" fill="#141414" stroke="#141414" stroke-width="0.14">4</text>
<line x1="158.45" y1="647.60" x2="161.75" y2="647.60" stroke="#141414" stroke-width="1.28" stroke-linecap="butt"/>
<text transform="translate(155.00 650.98)" x="-5.23" y="0" font-size="9.40" fill="#141414" stroke="#141414" stroke-width="0.14">3</text>
<line x1="158.45" y1="662.70" x2="161.75" y2="662.70" stroke="#141414" stroke-width="1.28" stroke-linecap="butt"/>
<text transform="translate(155.00 666.08)" x="-5.23" y="0" font-size="9.40" fill="#141414" stroke="#141414" stroke-width="0.14">2</text>
<line x1="158.45" y1="677.70" x2="161.75" y2="677.70" stroke="#141414" stroke-width="1.28" stroke-linecap="butt"/>
<text transform="translate(155.00 681.08)" x="-5.23" y="0" font-size="9.40" fill="#141414" stroke="#141414" stroke-width="0.14">1</text>
<line x1="158.45" y1="692.70" x2="161.75" y2="692.70" stroke="#141414" stroke-width="1.28" stroke-linecap="butt"/>
<text transform="translate(155.00 696.08)" x="-5.23" y="0" font-size="9.40" fill="#141414" stroke="#141414" stroke-width="0.14">0</text>
<line x1="158.75" y1="692.50" x2="237.00" y2="692.50" stroke="#141414" stroke-width="1.35" stroke-linecap="butt"/>
<line x1="285.00" y1="614.50" x2="285.00" y2="693.42" stroke="#141414" stroke-width="1.35" stroke-linecap="butt"/>
<line x1="281.70" y1="617.20" x2="285.00" y2="617.20" stroke="#141414" stroke-width="1.28" stroke-linecap="butt"/>
<text transform="translate(278.20 620.58)" x="-5.23" y="0" font-size="9.40" fill="#141414" stroke="#141414" stroke-width="0.14">6</text>
<line x1="281.70" y1="642.60" x2="285.00" y2="642.60" stroke="#141414" stroke-width="1.28" stroke-linecap="butt"/>
<text transform="translate(278.20 645.98)" x="-5.23" y="0" font-size="9.40" fill="#141414" stroke="#141414" stroke-width="0.14">4</text>
<line x1="281.70" y1="667.80" x2="285.00" y2="667.80" stroke="#141414" stroke-width="1.28" stroke-linecap="butt"/>
<text transform="translate(278.20 671.18)" x="-5.23" y="0" font-size="9.40" fill="#141414" stroke="#141414" stroke-width="0.14">2</text>
<line x1="281.70" y1="692.95" x2="285.00" y2="692.95" stroke="#141414" stroke-width="1.28" stroke-linecap="butt"/>
<text transform="translate(278.20 696.33)" x="-5.23" y="0" font-size="9.40" fill="#141414" stroke="#141414" stroke-width="0.14">0</text>
<line x1="282.00" y1="692.75" x2="360.50" y2="692.75" stroke="#141414" stroke-width="1.35" stroke-linecap="butt"/>
<line x1="408.40" y1="614.50" x2="408.40" y2="693.07" stroke="#141414" stroke-width="1.35" stroke-linecap="butt"/>
<line x1="404.90" y1="617.60" x2="408.40" y2="617.60" stroke="#141414" stroke-width="1.28" stroke-linecap="butt"/>
<text transform="translate(401.20 620.98)" x="-5.23" y="0" font-size="9.40" fill="#141414" stroke="#141414" stroke-width="0.14">8</text>
<line x1="404.90" y1="636.30" x2="408.40" y2="636.30" stroke="#141414" stroke-width="1.28" stroke-linecap="butt"/>
<text transform="translate(401.20 639.68)" x="-5.23" y="0" font-size="9.40" fill="#141414" stroke="#141414" stroke-width="0.14">6</text>
<line x1="404.90" y1="655.20" x2="408.40" y2="655.20" stroke="#141414" stroke-width="1.28" stroke-linecap="butt"/>
<text transform="translate(401.20 658.58)" x="-5.23" y="0" font-size="9.40" fill="#141414" stroke="#141414" stroke-width="0.14">4</text>
<line x1="404.90" y1="674.00" x2="408.40" y2="674.00" stroke="#141414" stroke-width="1.28" stroke-linecap="butt"/>
<text transform="translate(401.20 677.38)" x="-5.23" y="0" font-size="9.40" fill="#141414" stroke="#141414" stroke-width="0.14">2</text>
<line x1="404.90" y1="692.60" x2="408.40" y2="692.60" stroke="#141414" stroke-width="1.28" stroke-linecap="butt"/>
<text transform="translate(401.20 695.98)" x="-5.23" y="0" font-size="9.40" fill="#141414" stroke="#141414" stroke-width="0.14">0</text>
<line x1="405.20" y1="692.40" x2="483.40" y2="692.40" stroke="#141414" stroke-width="1.35" stroke-linecap="butt"/>
</svg>
<svg class="frame" width="520" height="742" viewBox="0 0 520 742">
<path d="M0 0H520V742H0Z M1.2 1.2V740.8H518.8V1.2Z" fill="#000" fill-rule="evenodd"/>
</svg>
</body></html>
